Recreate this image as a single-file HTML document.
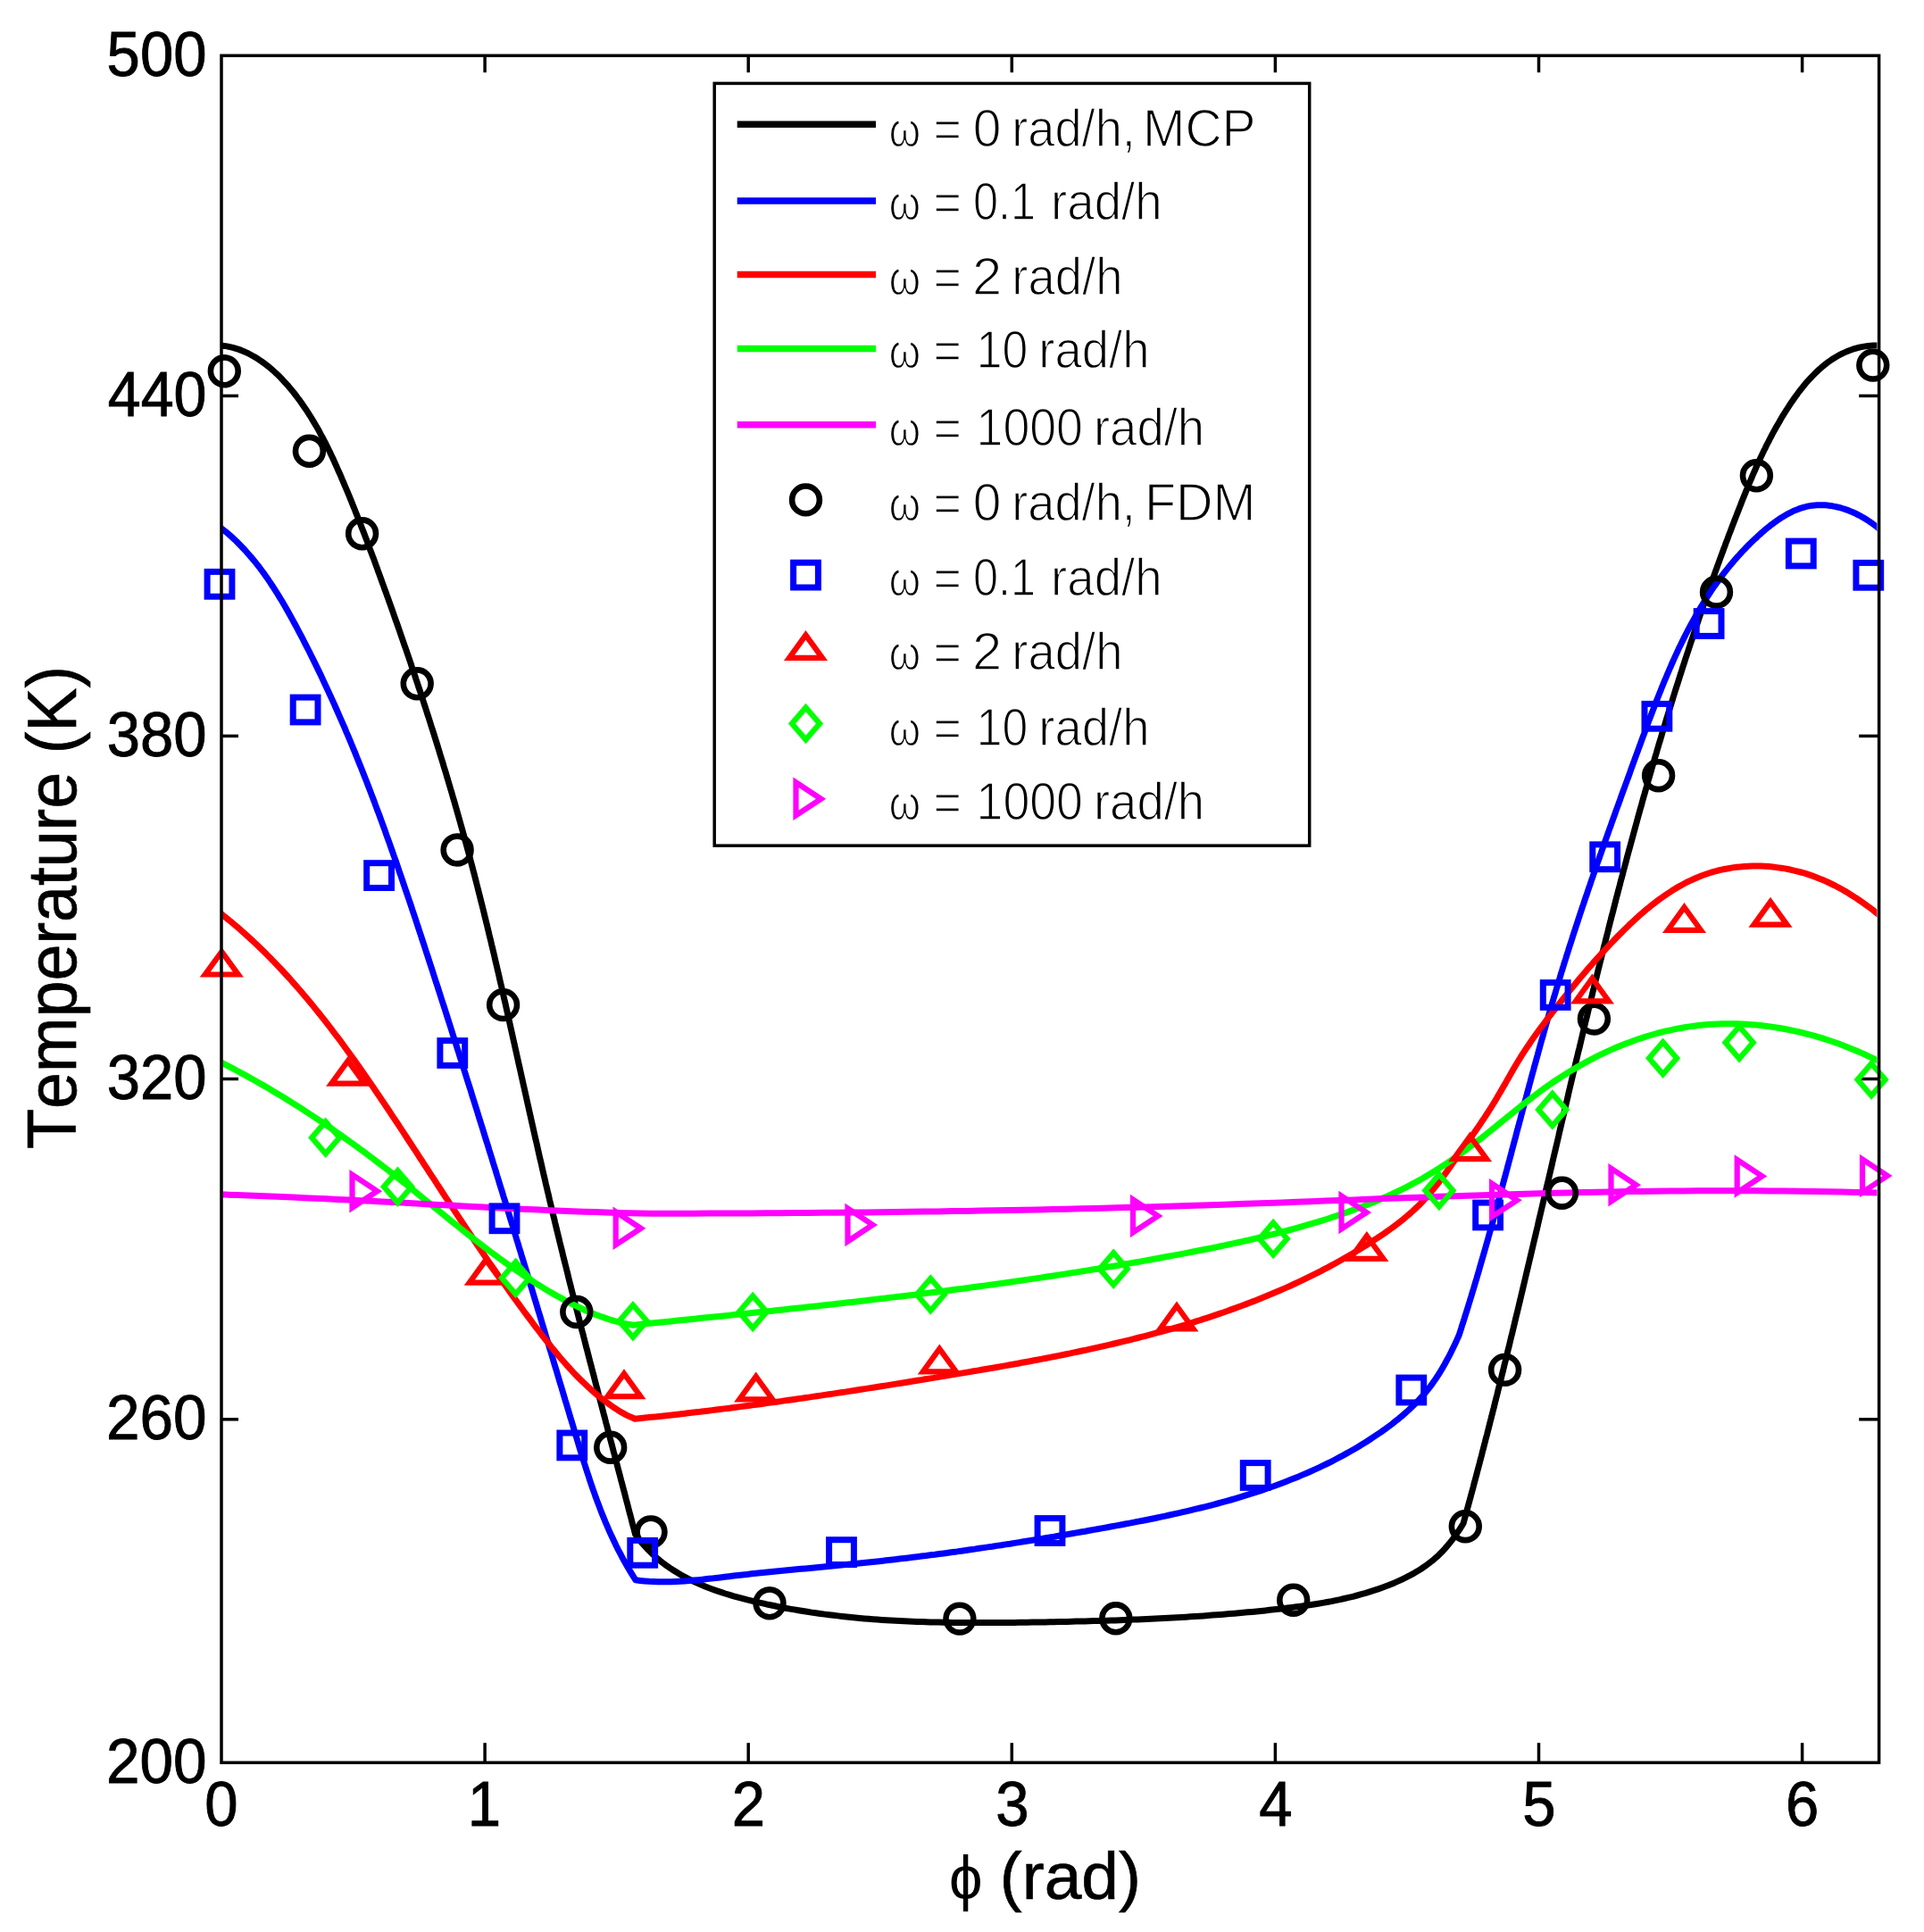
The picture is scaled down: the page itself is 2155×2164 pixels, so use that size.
<!DOCTYPE html>
<html><head><meta charset="utf-8"><title>Temperature vs phi</title>
<style>
html,body{margin:0;padding:0;background:#fff;}
svg{display:block;}
text{font-family:"Liberation Sans",sans-serif;fill:#000;font-kerning:none;}
.tb{stroke:#000;stroke-width:0.9px;}
.ab{stroke:#000;stroke-width:0.7px;}
.lt{stroke:#fff;stroke-width:1.4px;paint-order:fill stroke;}
</style></head><body>
<svg width="2155" height="2164" viewBox="0 0 2155 2164">
<rect x="0" y="0" width="2155" height="2164" fill="#fff"/>
<g stroke="#000" stroke-width="3.5">
<line x1="543.1" y1="1974.3" x2="543.1" y2="1952.2"/><line x1="543.1" y1="62.3" x2="543.1" y2="81.2"/>
<line x1="838.2" y1="1974.3" x2="838.2" y2="1952.2"/><line x1="838.2" y1="62.3" x2="838.2" y2="81.2"/>
<line x1="1133.3" y1="1974.3" x2="1133.3" y2="1952.2"/><line x1="1133.3" y1="62.3" x2="1133.3" y2="81.2"/>
<line x1="1428.4" y1="1974.3" x2="1428.4" y2="1952.2"/><line x1="1428.4" y1="62.3" x2="1428.4" y2="81.2"/>
<line x1="1723.5" y1="1974.3" x2="1723.5" y2="1952.2"/><line x1="1723.5" y1="62.3" x2="1723.5" y2="81.2"/>
<line x1="2018.6" y1="1974.3" x2="2018.6" y2="1952.2"/><line x1="2018.6" y1="62.3" x2="2018.6" y2="81.2"/>
<line x1="248.0" y1="443.4" x2="267" y2="443.4"/><line x1="2104.6" y1="443.4" x2="2082.2" y2="443.4"/>
<line x1="248.0" y1="824.4" x2="267" y2="824.4"/><line x1="2104.6" y1="824.4" x2="2082.2" y2="824.4"/>
<line x1="248.0" y1="1208.5" x2="267" y2="1208.5"/><line x1="2104.6" y1="1208.5" x2="2082.2" y2="1208.5"/>
<line x1="248.0" y1="1589.8" x2="267" y2="1589.8"/><line x1="2104.6" y1="1589.8" x2="2082.2" y2="1589.8"/>
</g>
<defs><clipPath id="pc"><rect x="248.0" y="62.3" width="1854.4" height="1912.0"/></clipPath></defs>
<g fill="none" stroke-width="7.0" stroke-linejoin="round" stroke-linecap="butt" clip-path="url(#pc)">
<path d="M194.7,403.1 L198.2,400.6 L201.8,398.3 L205.4,396.3 L208.9,394.4 L212.5,392.8 L216.0,391.4 L219.6,390.2 L223.1,389.1 L226.6,388.3 L230.1,387.7 L233.6,387.2 L237.1,386.9 L240.6,386.8 L244.0,386.8 L247.5,387.0 L250.9,387.4 L254.3,387.9 L257.6,388.6 L260.9,389.4 L264.2,390.4 L267.5,391.4 L270.7,392.6 L273.9,394.0 L277.1,395.4 L280.2,397.0 L283.3,398.7 L286.3,400.4 L289.3,402.3 L292.3,404.3 L295.2,406.4 L298.0,408.5 L300.9,410.8 L303.7,413.1 L306.4,415.5 L309.1,418.0 L311.8,420.5 L314.4,423.1 L316.9,425.8 L319.5,428.6 L322.0,431.3 L324.4,434.2 L326.8,437.1 L329.2,440.0 L331.5,443.0 L333.7,446.0 L336.0,449.0 L338.2,452.1 L340.3,455.2 L342.4,458.3 L344.5,461.4 L346.5,464.6 L348.5,467.7 L350.4,470.9 L352.3,474.1 L354.2,477.3 L356.1,480.6 L357.9,483.8 L359.6,487.1 L361.4,490.3 L363.1,493.6 L364.8,496.9 L366.4,500.2 L368.1,503.5 L369.7,506.8 L371.3,510.2 L372.9,513.5 L374.4,516.9 L375.9,520.2 L377.4,523.6 L378.9,527.0 L380.4,530.3 L381.9,533.7 L383.3,537.1 L384.8,540.5 L386.2,543.9 L387.7,547.3 L389.1,550.6 L390.5,554.0 L391.9,557.4 L393.3,560.8 L394.6,564.2 L396.0,567.6 L397.4,571.0 L398.7,574.4 L400.1,577.8 L401.4,581.2 L402.8,584.6 L404.1,588.0 L405.4,591.4 L406.8,594.9 L408.1,598.3 L409.4,601.7 L410.7,605.1 L412.0,608.5 L413.3,611.9 L414.5,615.4 L415.8,618.8 L417.1,622.2 L418.4,625.6 L419.7,629.1 L420.9,632.5 L422.2,635.9 L423.4,639.4 L424.7,642.8 L425.9,646.2 L427.2,649.7 L428.4,653.1 L429.7,656.6 L430.9,660.0 L432.2,663.4 L433.4,666.9 L434.7,670.3 L435.9,673.8 L437.1,677.2 L438.4,680.7 L439.6,684.1 L440.8,687.6 L442.0,691.1 L443.2,694.5 L444.5,698.0 L445.7,701.5 L446.9,704.9 L448.1,708.4 L449.3,711.8 L450.5,715.3 L451.7,718.8 L452.9,722.3 L454.1,725.7 L455.3,729.2 L456.5,732.7 L457.7,736.2 L458.9,739.6 L460.1,743.1 L461.2,746.6 L462.4,750.1 L463.6,753.6 L464.8,757.1 L465.9,760.6 L467.1,764.0 L468.2,767.5 L469.4,771.0 L470.6,774.5 L471.7,778.0 L472.9,781.5 L474.0,785.0 L475.1,788.5 L476.3,792.0 L477.4,795.5 L478.5,799.0 L479.7,802.5 L480.8,806.0 L481.9,809.5 L483.0,813.1 L484.2,816.6 L485.3,820.1 L486.4,823.6 L487.5,827.1 L488.6,830.6 L489.7,834.1 L490.8,837.7 L491.9,841.2 L492.9,844.7 L494.0,848.2 L495.1,851.7 L496.2,855.3 L497.2,858.8 L498.3,862.3 L499.4,865.8 L500.4,869.4 L501.5,872.9 L502.5,876.4 L503.6,880.0 L504.6,883.5 L505.7,887.0 L506.7,890.6 L507.7,894.1 L508.8,897.6 L509.8,901.2 L510.8,904.7 L511.8,908.3 L512.8,911.8 L513.8,915.3 L514.8,918.9 L515.8,922.4 L516.8,926.0 L517.8,929.5 L518.8,933.1 L519.8,936.6 L520.7,940.2 L521.7,943.7 L522.7,947.3 L523.6,950.8 L524.6,954.4 L525.5,957.9 L526.5,961.5 L527.4,965.0 L528.4,968.6 L529.3,972.2 L530.2,975.7 L531.2,979.3 L532.1,982.8 L533.0,986.4 L533.9,990.0 L534.8,993.5 L535.7,997.1 L536.6,1000.7 L537.5,1004.2 L538.4,1007.8 L539.3,1011.4 L540.2,1014.9 L541.1,1018.5 L542.0,1022.1 L542.8,1025.6 L543.7,1029.2 L544.6,1032.8 L545.5,1036.3 L546.3,1039.9 L547.2,1043.5 L548.0,1047.1 L548.9,1050.6 L549.8,1054.2 L550.6,1057.8 L551.5,1061.4 L552.3,1064.9 L553.2,1068.5 L554.0,1072.1 L554.8,1075.7 L555.7,1079.3 L556.5,1082.8 L557.3,1086.4 L558.2,1090.0 L559.0,1093.6 L559.8,1097.2 L560.6,1100.7 L561.5,1104.3 L562.3,1107.9 L563.1,1111.5 L563.9,1115.1 L564.7,1118.6 L565.6,1122.2 L566.4,1125.8 L567.2,1129.4 L568.0,1133.0 L568.8,1136.6 L569.6,1140.1 L570.4,1143.7 L571.2,1147.3 L572.0,1150.9 L572.8,1154.5 L573.6,1158.1 L574.4,1161.7 L575.2,1165.2 L576.0,1168.8 L576.8,1172.4 L577.6,1176.0 L578.4,1179.6 L579.2,1183.2 L580.0,1186.8 L580.8,1190.4 L581.6,1193.9 L582.4,1197.5 L583.2,1201.1 L584.0,1204.7 L584.8,1208.3 L585.6,1211.9 L586.4,1215.5 L587.2,1219.1 L588.0,1222.6 L588.8,1226.2 L589.6,1229.8 L590.4,1233.4 L591.2,1237.0 L592.0,1240.6 L592.8,1244.2 L593.6,1247.7 L594.4,1251.3 L595.2,1254.9 L596.0,1258.5 L596.8,1262.1 L597.6,1265.7 L598.4,1269.3 L599.2,1272.8 L600.0,1276.4 L600.9,1280.0 L601.7,1283.6 L602.5,1287.2 L603.3,1290.8 L604.1,1294.4 L604.9,1297.9 L605.8,1301.5 L606.6,1305.1 L607.4,1308.7 L608.2,1312.3 L609.0,1315.8 L609.9,1319.4 L610.7,1323.0 L611.5,1326.6 L612.4,1330.2 L613.2,1333.8 L614.1,1337.3 L614.9,1340.9 L615.7,1344.5 L616.6,1348.1 L617.4,1351.6 L618.3,1355.2 L619.1,1358.8 L620.0,1362.4 L620.9,1365.9 L621.7,1369.5 L622.6,1373.1 L623.4,1376.7 L624.3,1380.2 L625.2,1383.8 L626.1,1387.4 L626.9,1391.0 L627.8,1394.5 L628.7,1398.1 L629.6,1401.7 L630.4,1405.2 L631.3,1408.8 L632.2,1412.4 L633.1,1416.0 L634.0,1419.5 L634.9,1423.1 L635.8,1426.7 L636.6,1430.2 L637.5,1433.8 L638.4,1437.4 L639.3,1440.9 L640.2,1444.5 L641.1,1448.1 L642.0,1451.6 L642.9,1455.2 L643.8,1458.8 L644.7,1462.3 L645.7,1465.9 L646.6,1469.5 L647.5,1473.0 L648.4,1476.6 L649.3,1480.2 L650.2,1483.7 L651.1,1487.3 L652.0,1490.8 L653.0,1494.4 L653.9,1498.0 L654.8,1501.5 L655.7,1505.1 L656.6,1508.7 L657.6,1512.2 L658.5,1515.8 L659.4,1519.3 L660.3,1522.9 L661.2,1526.5 L662.2,1530.0 L663.1,1533.6 L664.0,1537.1 L665.0,1540.7 L665.9,1544.3 L666.8,1547.8 L667.7,1551.4 L668.7,1554.9 L669.6,1558.5 L670.5,1562.1 L671.5,1565.6 L672.4,1569.2 L673.3,1572.7 L674.3,1576.3 L675.2,1579.8 L676.1,1583.4 L677.1,1587.0 L678.0,1590.5 L678.9,1594.1 L679.9,1597.6 L680.8,1601.2 L681.7,1604.7 L682.7,1608.3 L683.6,1611.9 L684.5,1615.4 L685.5,1619.0 L686.4,1622.5 L687.3,1626.1 L688.3,1629.6 L689.2,1633.2 L690.1,1636.7 L691.1,1640.3 L692.0,1643.9 L692.9,1647.4 L693.9,1651.0 L694.8,1654.5 L695.7,1658.1 L696.7,1661.6 L697.6,1665.2 L698.5,1668.7 L699.5,1672.3 L700.4,1675.8 L701.3,1679.4 L702.3,1683.0 L703.2,1686.5 L704.1,1690.1 L705.0,1693.6 L706.0,1697.2 L706.9,1700.7 L707.8,1704.3 L708.7,1707.8 L709.7,1711.4 L710.6,1714.9 L711.5,1718.5 L714.6,1722.7 L717.7,1726.7 L721.0,1730.5 L724.4,1734.2 L727.9,1737.8 L731.4,1741.2 L735.1,1744.5 L738.8,1747.7 L742.6,1750.7 L746.5,1753.6 L750.5,1756.4 L754.5,1759.0 L758.7,1761.6 L762.8,1764.1 L767.1,1766.4 L771.4,1768.6 L775.8,1770.8 L780.2,1772.9 L784.7,1774.8 L789.2,1776.7 L793.7,1778.5 L798.3,1780.2 L803.0,1781.9 L807.6,1783.4 L812.4,1785.0 L817.1,1786.4 L821.8,1787.8 L826.6,1789.1 L831.4,1790.4 L836.2,1791.7 L841.1,1792.9 L845.9,1794.0 L850.7,1795.1 L855.6,1796.2 L860.4,1797.3 L865.3,1798.3 L870.1,1799.3 L875.0,1800.2 L879.8,1801.2 L884.7,1802.1 L889.6,1802.9 L894.5,1803.7 L899.3,1804.5 L904.2,1805.3 L909.1,1806.1 L914.0,1806.8 L918.9,1807.5 L923.8,1808.1 L928.7,1808.7 L933.6,1809.3 L938.5,1809.9 L943.4,1810.5 L948.3,1811.0 L953.2,1811.5 L958.2,1812.0 L963.1,1812.4 L968.0,1812.9 L972.9,1813.3 L977.9,1813.7 L982.8,1814.0 L987.7,1814.4 L992.7,1814.7 L997.6,1815.0 L1002.5,1815.3 L1007.5,1815.5 L1012.4,1815.8 L1017.4,1816.0 L1022.3,1816.2 L1027.2,1816.4 L1032.2,1816.6 L1037.1,1816.8 L1042.1,1816.9 L1047.0,1817.0 L1052.0,1817.1 L1056.9,1817.2 L1061.9,1817.3 L1066.8,1817.4 L1071.8,1817.5 L1076.7,1817.5 L1081.7,1817.6 L1086.7,1817.6 L1091.6,1817.6 L1096.6,1817.6 L1101.5,1817.6 L1106.5,1817.6 L1111.4,1817.6 L1116.4,1817.5 L1121.3,1817.5 L1126.3,1817.5 L1131.2,1817.4 L1136.2,1817.4 L1141.1,1817.3 L1146.0,1817.2 L1151.0,1817.2 L1155.9,1817.1 L1160.9,1817.0 L1165.8,1816.9 L1170.7,1816.9 L1175.7,1816.8 L1180.6,1816.7 L1185.6,1816.6 L1190.5,1816.5 L1195.4,1816.4 L1200.3,1816.3 L1205.3,1816.1 L1210.2,1816.0 L1215.1,1815.9 L1220.1,1815.8 L1225.0,1815.6 L1229.9,1815.5 L1234.8,1815.4 L1239.8,1815.2 L1244.7,1815.0 L1249.6,1814.9 L1254.5,1814.7 L1259.5,1814.5 L1264.4,1814.3 L1269.3,1814.1 L1274.2,1813.9 L1279.1,1813.7 L1284.1,1813.5 L1289.0,1813.3 L1293.9,1813.1 L1298.8,1812.8 L1303.8,1812.6 L1308.7,1812.3 L1313.6,1812.0 L1318.5,1811.7 L1323.4,1811.5 L1328.4,1811.2 L1333.3,1810.8 L1338.2,1810.5 L1343.2,1810.2 L1348.1,1809.9 L1353.0,1809.5 L1357.9,1809.1 L1362.9,1808.8 L1367.8,1808.4 L1372.7,1808.0 L1377.7,1807.6 L1382.6,1807.2 L1387.5,1806.7 L1392.5,1806.3 L1397.4,1805.8 L1402.4,1805.4 L1407.3,1804.9 L1412.3,1804.4 L1417.2,1803.9 L1422.1,1803.3 L1427.1,1802.8 L1432.1,1802.3 L1437.0,1801.7 L1442.0,1801.1 L1446.9,1800.5 L1451.9,1799.8 L1456.8,1799.2 L1461.7,1798.5 L1466.7,1797.8 L1471.6,1797.0 L1476.5,1796.2 L1481.4,1795.4 L1486.3,1794.5 L1491.2,1793.6 L1496.0,1792.6 L1500.9,1791.6 L1505.7,1790.5 L1510.5,1789.4 L1515.3,1788.3 L1520.1,1787.0 L1524.8,1785.7 L1529.6,1784.4 L1534.3,1782.9 L1538.9,1781.4 L1543.6,1779.9 L1548.2,1778.2 L1552.8,1776.5 L1557.4,1774.7 L1561.9,1772.9 L1566.4,1770.9 L1570.8,1768.8 L1575.2,1766.7 L1579.6,1764.4 L1583.9,1762.1 L1588.1,1759.6 L1592.2,1757.0 L1596.3,1754.2 L1600.2,1751.3 L1604.1,1748.3 L1607.8,1745.1 L1611.5,1741.8 L1615.0,1738.3 L1618.4,1734.6 L1621.7,1730.8 L1624.9,1726.9 L1628.0,1722.9 L1630.9,1718.9 L1633.7,1714.8 L1636.4,1710.6 L1639.0,1706.5 L1639.8,1703.6 L1640.6,1700.6 L1641.4,1697.7 L1642.2,1694.8 L1643.0,1691.8 L1643.8,1688.9 L1644.6,1686.0 L1645.4,1683.0 L1646.2,1680.1 L1647.0,1677.2 L1647.8,1674.2 L1648.6,1671.3 L1649.4,1668.3 L1650.2,1665.4 L1650.9,1662.5 L1651.7,1659.5 L1652.5,1656.6 L1653.3,1653.6 L1654.1,1650.7 L1654.8,1647.8 L1655.6,1644.8 L1656.4,1641.9 L1657.2,1638.9 L1657.9,1636.0 L1658.7,1633.1 L1659.5,1630.1 L1660.2,1627.2 L1661.0,1624.2 L1661.8,1621.3 L1662.5,1618.3 L1663.3,1615.4 L1664.0,1612.4 L1664.8,1609.5 L1665.6,1606.6 L1666.3,1603.6 L1667.1,1600.7 L1667.8,1597.7 L1668.6,1594.8 L1669.3,1591.8 L1670.1,1588.9 L1670.8,1585.9 L1671.6,1583.0 L1672.3,1580.0 L1673.1,1577.1 L1673.8,1574.1 L1674.5,1571.2 L1675.3,1568.2 L1676.0,1565.3 L1676.8,1562.3 L1677.5,1559.4 L1678.2,1556.4 L1679.0,1553.5 L1679.7,1550.5 L1680.4,1547.6 L1681.2,1544.6 L1681.9,1541.7 L1682.6,1538.7 L1683.4,1535.8 L1684.1,1532.8 L1684.8,1529.8 L1685.5,1526.9 L1686.3,1523.9 L1687.0,1521.0 L1687.7,1518.0 L1688.4,1515.1 L1689.1,1512.1 L1689.9,1509.2 L1690.6,1506.2 L1691.3,1503.3 L1692.0,1500.3 L1692.7,1497.3 L1693.5,1494.4 L1694.2,1491.4 L1694.9,1488.5 L1695.6,1485.5 L1696.3,1482.6 L1697.0,1479.6 L1697.7,1476.6 L1698.4,1473.7 L1699.2,1470.7 L1699.9,1467.8 L1700.6,1464.8 L1701.3,1461.8 L1702.0,1458.9 L1702.7,1455.9 L1703.4,1453.0 L1704.1,1450.0 L1704.8,1447.1 L1705.5,1444.1 L1706.2,1441.1 L1706.9,1438.2 L1707.6,1435.2 L1708.3,1432.3 L1709.0,1429.3 L1709.7,1426.3 L1710.4,1423.4 L1711.1,1420.4 L1711.8,1417.4 L1712.5,1414.5 L1713.2,1411.5 L1713.9,1408.6 L1714.6,1405.6 L1715.3,1402.6 L1716.0,1399.7 L1716.7,1396.7 L1717.4,1393.8 L1718.1,1390.8 L1718.8,1387.8 L1719.5,1384.9 L1720.2,1381.9 L1720.9,1378.9 L1721.6,1376.0 L1722.3,1373.0 L1722.9,1370.1 L1723.6,1367.1 L1724.3,1364.1 L1725.0,1361.2 L1725.7,1358.2 L1726.4,1355.2 L1727.1,1352.3 L1727.8,1349.3 L1728.5,1346.4 L1729.2,1343.4 L1729.9,1340.4 L1730.6,1337.5 L1731.2,1334.5 L1731.9,1331.5 L1732.6,1328.6 L1733.3,1325.6 L1734.0,1322.7 L1734.7,1319.7 L1735.4,1316.7 L1736.1,1313.8 L1736.8,1310.8 L1737.5,1307.8 L1738.2,1304.9 L1738.8,1301.9 L1739.5,1299.0 L1740.2,1296.0 L1740.9,1293.0 L1741.6,1290.1 L1742.3,1287.1 L1743.0,1284.1 L1743.7,1281.2 L1744.4,1278.2 L1745.1,1275.3 L1745.8,1272.3 L1746.4,1269.3 L1747.1,1266.4 L1747.8,1263.4 L1748.5,1260.4 L1749.2,1257.5 L1749.9,1254.5 L1750.6,1251.6 L1751.3,1248.6 L1752.0,1245.6 L1752.7,1242.7 L1753.4,1239.7 L1754.1,1236.7 L1754.8,1233.8 L1755.5,1230.8 L1756.2,1227.9 L1756.8,1224.9 L1757.5,1221.9 L1758.2,1219.0 L1758.9,1216.0 L1759.6,1213.1 L1760.3,1210.1 L1761.0,1207.1 L1761.7,1204.2 L1762.4,1201.2 L1763.1,1198.3 L1763.8,1195.3 L1764.5,1192.3 L1765.2,1189.4 L1765.9,1186.4 L1766.6,1183.5 L1767.3,1180.5 L1768.0,1177.5 L1768.8,1174.6 L1769.5,1171.6 L1770.2,1168.7 L1770.9,1165.7 L1771.6,1162.8 L1772.3,1159.8 L1773.0,1156.8 L1773.7,1153.9 L1774.4,1150.9 L1775.1,1148.0 L1775.8,1145.0 L1776.5,1142.1 L1777.3,1139.1 L1778.0,1136.1 L1778.7,1133.2 L1779.4,1130.2 L1780.1,1127.3 L1780.8,1124.3 L1781.6,1121.4 L1782.3,1118.4 L1783.0,1115.5 L1783.7,1112.5 L1784.4,1109.5 L1785.2,1106.6 L1785.9,1103.6 L1786.6,1100.7 L1787.3,1097.7 L1788.1,1094.8 L1788.8,1091.8 L1789.5,1088.9 L1790.2,1085.9 L1791.0,1083.0 L1791.7,1080.0 L1792.4,1077.1 L1793.2,1074.1 L1793.9,1071.2 L1794.6,1068.2 L1795.4,1065.3 L1796.1,1062.3 L1796.8,1059.4 L1797.6,1056.4 L1798.3,1053.5 L1799.1,1050.5 L1799.8,1047.6 L1800.6,1044.6 L1801.3,1041.7 L1802.0,1038.7 L1802.8,1035.8 L1803.5,1032.8 L1804.3,1029.9 L1805.0,1026.9 L1805.8,1024.0 L1806.6,1021.1 L1807.3,1018.1 L1808.1,1015.2 L1808.8,1012.2 L1809.6,1009.3 L1810.3,1006.3 L1811.1,1003.4 L1811.9,1000.5 L1812.6,997.5 L1813.4,994.6 L1814.2,991.6 L1814.9,988.7 L1815.7,985.7 L1816.5,982.8 L1817.3,979.9 L1818.0,976.9 L1818.8,974.0 L1819.6,971.1 L1820.4,968.1 L1821.2,965.2 L1821.9,962.2 L1822.7,959.3 L1823.5,956.4 L1824.3,953.4 L1825.1,950.5 L1825.9,947.6 L1826.7,944.6 L1827.5,941.7 L1828.3,938.8 L1829.1,935.8 L1829.9,932.9 L1830.7,930.0 L1831.5,927.0 L1832.3,924.1 L1833.1,921.2 L1833.9,918.2 L1834.7,915.3 L1835.5,912.4 L1836.3,909.5 L1837.1,906.5 L1838.0,903.6 L1838.8,900.7 L1839.6,897.7 L1840.4,894.8 L1841.2,891.9 L1842.1,889.0 L1842.9,886.0 L1843.7,883.1 L1844.6,880.2 L1845.4,877.3 L1846.2,874.3 L1847.1,871.4 L1847.9,868.5 L1848.7,865.6 L1849.6,862.7 L1850.4,859.7 L1851.3,856.8 L1852.1,853.9 L1853.0,851.0 L1853.8,848.1 L1854.7,845.2 L1855.6,842.2 L1856.4,839.3 L1857.3,836.4 L1858.1,833.5 L1859.0,830.6 L1859.9,827.7 L1860.8,824.8 L1861.6,821.8 L1862.5,818.9 L1863.4,816.0 L1864.3,813.1 L1865.1,810.2 L1866.0,807.3 L1866.9,804.4 L1867.8,801.5 L1868.7,798.6 L1869.6,795.7 L1870.5,792.8 L1871.4,789.9 L1872.3,787.0 L1873.2,784.1 L1874.1,781.1 L1875.0,778.2 L1875.9,775.3 L1876.8,772.4 L1877.7,769.6 L1878.7,766.7 L1879.6,763.8 L1880.5,760.9 L1881.4,758.0 L1882.3,755.1 L1883.3,752.2 L1884.2,749.3 L1885.1,746.4 L1886.1,743.5 L1887.0,740.6 L1887.9,737.7 L1888.9,734.8 L1889.8,732.0 L1890.8,729.1 L1891.7,726.2 L1892.7,723.3 L1893.6,720.4 L1894.6,717.5 L1895.6,714.7 L1896.5,711.8 L1897.5,708.9 L1898.5,706.0 L1899.4,703.1 L1900.4,700.3 L1901.4,697.4 L1902.4,694.5 L1903.3,691.6 L1904.3,688.8 L1905.3,685.9 L1906.3,683.0 L1907.3,680.2 L1908.3,677.3 L1909.3,674.4 L1910.3,671.6 L1911.3,668.7 L1912.3,665.8 L1913.3,663.0 L1914.3,660.1 L1915.3,657.3 L1916.3,654.4 L1917.3,651.5 L1918.4,648.7 L1919.4,645.8 L1920.4,643.0 L1921.4,640.1 L1922.5,637.3 L1923.5,634.4 L1924.5,631.6 L1925.6,628.7 L1926.6,625.9 L1927.7,623.0 L1928.7,620.2 L1929.8,617.4 L1930.8,614.5 L1931.9,611.7 L1932.9,608.8 L1934.0,606.0 L1935.1,603.2 L1936.1,600.3 L1937.2,597.5 L1938.3,594.7 L1939.4,591.8 L1940.4,589.0 L1941.5,586.2 L1942.6,583.4 L1943.7,580.5 L1944.8,577.7 L1945.9,574.9 L1947.0,572.1 L1948.1,569.3 L1949.2,566.4 L1950.3,563.6 L1951.4,560.8 L1952.5,558.0 L1953.7,555.2 L1954.8,552.4 L1955.9,549.6 L1957.1,546.8 L1958.2,544.0 L1959.4,541.2 L1960.6,538.4 L1961.8,535.6 L1962.9,532.8 L1964.1,530.1 L1965.4,527.3 L1966.6,524.5 L1967.8,521.7 L1969.1,519.0 L1970.3,516.2 L1971.6,513.4 L1972.9,510.7 L1974.2,507.9 L1975.5,505.2 L1976.9,502.5 L1978.2,499.7 L1979.6,497.0 L1981.0,494.3 L1982.4,491.5 L1983.8,488.8 L1985.2,486.1 L1986.7,483.4 L1988.2,480.7 L1989.7,478.0 L1991.2,475.4 L1992.8,472.7 L1994.3,470.0 L1995.9,467.3 L1997.5,464.7 L1999.2,462.0 L2000.8,459.4 L2002.5,456.8 L2004.2,454.1 L2005.9,451.5 L2007.7,448.9 L2009.5,446.4 L2011.3,443.8 L2013.2,441.3 L2015.0,438.8 L2016.9,436.3 L2018.9,433.9 L2020.8,431.5 L2022.8,429.1 L2024.8,426.8 L2026.9,424.5 L2029.0,422.3 L2031.1,420.1 L2033.2,418.0 L2035.4,415.9 L2037.6,413.8 L2039.9,411.8 L2042.1,409.9 L2044.5,408.0 L2046.8,406.2 L2049.2,404.5 L2051.6,402.8 L2054.1,401.2 L2056.6,399.7 L2059.1,398.3 L2061.7,396.9 L2064.3,395.6 L2067.0,394.4 L2069.7,393.2 L2072.4,392.2 L2075.2,391.2 L2078.0,390.4 L2080.8,389.6 L2083.6,388.9 L2086.5,388.4 L2089.4,387.9 L2092.3,387.5 L2095.2,387.3 L2098.1,387.1 L2101.1,387.1 L2104.0,387.1 L2107.0,387.3 L2109.9,387.6 L2112.8,388.0 L2115.8,388.5 L2118.7,389.2 L2121.6,389.9 L2124.5,390.8 L2127.3,391.9 L2130.2,393.0 L2133.0,394.3 L2135.8,395.8 L2138.5,397.3 L2141.3,399.0 L2144.0,400.9 L2146.6,402.9" stroke="#000"/>
<path d="M187.3,565.1 L192.4,565.9 L197.4,566.9 L202.3,568.2 L207.1,569.6 L211.8,571.3 L216.4,573.1 L220.9,575.1 L225.3,577.2 L229.6,579.5 L233.8,582.0 L237.9,584.6 L242.0,587.3 L245.9,590.2 L249.8,593.2 L253.6,596.2 L257.3,599.4 L260.9,602.7 L264.5,606.0 L267.9,609.5 L271.3,613.0 L274.7,616.5 L277.9,620.2 L281.1,623.9 L284.3,627.6 L287.3,631.4 L290.4,635.3 L293.3,639.3 L296.2,643.2 L299.1,647.3 L301.9,651.4 L304.6,655.5 L307.3,659.6 L310.0,663.8 L312.6,668.1 L315.2,672.3 L317.7,676.6 L320.3,681.0 L322.7,685.3 L325.2,689.7 L327.6,694.1 L330.0,698.5 L332.4,702.9 L334.7,707.3 L337.0,711.7 L339.4,716.2 L341.6,720.6 L343.9,725.1 L346.2,729.5 L348.4,734.0 L350.6,738.4 L352.8,742.9 L355.0,747.4 L357.2,751.9 L359.4,756.4 L361.5,760.9 L363.6,765.4 L365.7,769.9 L367.8,774.4 L369.9,778.9 L371.9,783.4 L374.0,787.9 L376.0,792.5 L378.0,797.0 L380.0,801.6 L382.0,806.1 L384.0,810.7 L386.0,815.2 L387.9,819.8 L389.9,824.3 L391.8,828.9 L393.7,833.5 L395.6,838.1 L397.5,842.6 L399.3,847.2 L401.2,851.8 L403.0,856.4 L404.9,861.0 L406.7,865.6 L408.5,870.2 L410.3,874.8 L412.1,879.4 L413.9,884.1 L415.7,888.7 L417.4,893.3 L419.2,897.9 L420.9,902.6 L422.6,907.2 L424.4,911.8 L426.1,916.5 L427.8,921.1 L429.5,925.8 L431.2,930.4 L432.8,935.1 L434.5,939.7 L436.2,944.4 L437.8,949.0 L439.5,953.7 L441.1,958.4 L442.8,963.0 L444.4,967.7 L446.0,972.4 L447.6,977.1 L449.2,981.7 L450.8,986.4 L452.4,991.1 L454.0,995.8 L455.6,1000.5 L457.2,1005.2 L458.8,1009.8 L460.4,1014.5 L461.9,1019.2 L463.5,1023.9 L465.1,1028.6 L466.6,1033.3 L468.2,1038.0 L469.7,1042.7 L471.3,1047.4 L472.8,1052.1 L474.4,1056.8 L475.9,1061.5 L477.4,1066.2 L479.0,1070.9 L480.5,1075.6 L482.0,1080.3 L483.6,1085.0 L485.1,1089.8 L486.6,1094.5 L488.1,1099.2 L489.7,1103.9 L491.2,1108.6 L492.7,1113.3 L494.2,1118.0 L495.7,1122.7 L497.3,1127.4 L498.8,1132.2 L500.3,1136.9 L501.8,1141.6 L503.3,1146.3 L504.8,1151.0 L506.3,1155.7 L507.8,1160.5 L509.3,1165.2 L510.8,1169.9 L512.3,1174.6 L513.8,1179.3 L515.3,1184.1 L516.8,1188.8 L518.3,1193.5 L519.8,1198.2 L521.3,1202.9 L522.8,1207.7 L524.3,1212.4 L525.8,1217.1 L527.3,1221.8 L528.7,1226.6 L530.2,1231.3 L531.7,1236.0 L533.2,1240.8 L534.7,1245.5 L536.1,1250.2 L537.6,1254.9 L539.1,1259.7 L540.6,1264.4 L542.0,1269.1 L543.5,1273.9 L545.0,1278.6 L546.5,1283.3 L547.9,1288.1 L549.4,1292.8 L550.9,1297.5 L552.3,1302.3 L553.8,1307.0 L555.3,1311.7 L556.7,1316.5 L558.2,1321.2 L559.6,1325.9 L561.1,1330.7 L562.6,1335.4 L564.0,1340.2 L565.5,1344.9 L566.9,1349.6 L568.4,1354.4 L569.8,1359.1 L571.3,1363.9 L572.7,1368.6 L574.2,1373.3 L575.6,1378.1 L577.1,1382.8 L578.5,1387.6 L580.0,1392.3 L581.4,1397.1 L582.9,1401.8 L584.3,1406.6 L585.8,1411.3 L587.2,1416.0 L588.7,1420.8 L590.1,1425.5 L591.5,1430.3 L593.0,1435.0 L594.4,1439.8 L595.9,1444.5 L597.3,1449.3 L598.7,1454.0 L600.2,1458.8 L601.6,1463.5 L603.0,1468.3 L604.5,1473.0 L605.9,1477.8 L607.3,1482.5 L608.8,1487.3 L610.2,1492.0 L611.6,1496.8 L613.1,1501.5 L614.5,1506.3 L615.9,1511.0 L617.4,1515.8 L618.8,1520.5 L620.2,1525.3 L621.6,1530.0 L623.1,1534.8 L624.5,1539.5 L625.9,1544.3 L627.3,1549.0 L628.8,1553.8 L630.2,1558.5 L631.6,1563.3 L633.0,1568.1 L634.5,1572.8 L635.9,1577.6 L637.3,1582.3 L638.7,1587.1 L640.2,1591.8 L641.6,1596.6 L643.0,1601.3 L644.4,1606.1 L645.9,1610.8 L647.3,1615.6 L648.7,1620.3 L650.2,1625.1 L651.6,1629.8 L653.1,1634.6 L654.6,1639.3 L656.1,1644.0 L657.6,1648.7 L659.2,1653.4 L660.7,1658.1 L662.3,1662.8 L663.9,1667.5 L665.6,1672.1 L667.2,1676.8 L668.9,1681.4 L670.7,1686.0 L672.4,1690.6 L674.2,1695.2 L676.1,1699.8 L677.9,1704.3 L679.9,1708.8 L681.8,1713.3 L683.8,1717.8 L685.9,1722.3 L688.0,1726.7 L690.1,1731.2 L692.3,1735.6 L694.6,1739.9 L696.9,1744.3 L699.2,1748.6 L701.7,1752.9 L704.2,1757.2 L706.7,1761.4 L709.3,1765.6 L712.0,1769.8 L717.0,1770.4 L722.0,1770.9 L726.9,1771.3 L731.9,1771.5 L736.9,1771.7 L741.9,1771.8 L746.9,1771.8 L751.8,1771.7 L756.8,1771.5 L761.8,1771.2 L766.8,1770.9 L771.7,1770.6 L776.7,1770.1 L781.7,1769.7 L786.7,1769.2 L791.7,1768.6 L796.7,1768.1 L801.6,1767.5 L806.6,1766.9 L811.6,1766.3 L816.6,1765.7 L821.6,1765.1 L826.6,1764.5 L831.6,1763.9 L836.7,1763.4 L841.7,1762.8 L846.7,1762.3 L851.7,1761.8 L856.7,1761.3 L861.8,1760.7 L866.8,1760.2 L871.8,1759.7 L876.9,1759.3 L881.9,1758.8 L886.9,1758.3 L892.0,1757.8 L897.0,1757.3 L902.0,1756.9 L907.1,1756.4 L912.1,1755.9 L917.1,1755.5 L922.2,1755.0 L927.2,1754.5 L932.2,1754.0 L937.3,1753.5 L942.3,1753.1 L947.3,1752.6 L952.3,1752.1 L957.3,1751.6 L962.4,1751.1 L967.4,1750.5 L972.4,1750.0 L977.4,1749.5 L982.4,1748.9 L987.4,1748.4 L992.4,1747.8 L997.3,1747.3 L1002.3,1746.7 L1007.3,1746.1 L1012.3,1745.5 L1017.3,1744.9 L1022.2,1744.3 L1027.2,1743.7 L1032.2,1743.1 L1037.2,1742.5 L1042.1,1741.8 L1047.1,1741.2 L1052.0,1740.5 L1057.0,1739.9 L1062.0,1739.2 L1066.9,1738.5 L1071.9,1737.9 L1076.8,1737.2 L1081.8,1736.5 L1086.7,1735.8 L1091.7,1735.1 L1096.6,1734.3 L1101.6,1733.6 L1106.5,1732.9 L1111.5,1732.2 L1116.4,1731.4 L1121.4,1730.7 L1126.3,1729.9 L1131.3,1729.2 L1136.2,1728.4 L1141.2,1727.6 L1146.1,1726.8 L1151.1,1726.0 L1156.0,1725.2 L1161.0,1724.4 L1165.9,1723.6 L1170.9,1722.8 L1175.8,1722.0 L1180.8,1721.2 L1185.7,1720.3 L1190.7,1719.5 L1195.6,1718.6 L1200.6,1717.8 L1205.6,1716.9 L1210.5,1716.0 L1215.5,1715.2 L1220.4,1714.3 L1225.4,1713.4 L1230.4,1712.5 L1235.3,1711.6 L1240.3,1710.7 L1245.3,1709.8 L1250.3,1708.9 L1255.2,1708.0 L1260.2,1707.0 L1265.2,1706.1 L1270.2,1705.1 L1275.1,1704.1 L1280.1,1703.2 L1285.1,1702.2 L1290.1,1701.2 L1295.0,1700.2 L1300.0,1699.1 L1305.0,1698.1 L1309.9,1697.0 L1314.9,1695.9 L1319.8,1694.8 L1324.8,1693.7 L1329.7,1692.6 L1334.6,1691.4 L1339.5,1690.2 L1344.5,1689.0 L1349.4,1687.8 L1354.3,1686.6 L1359.2,1685.3 L1364.0,1684.0 L1368.9,1682.7 L1373.8,1681.3 L1378.6,1680.0 L1383.5,1678.6 L1388.3,1677.2 L1393.1,1675.7 L1397.9,1674.2 L1402.7,1672.7 L1407.5,1671.2 L1412.3,1669.6 L1417.0,1668.0 L1421.7,1666.3 L1426.5,1664.7 L1431.2,1663.0 L1435.9,1661.2 L1440.5,1659.4 L1445.2,1657.6 L1449.8,1655.8 L1454.5,1653.9 L1459.1,1651.9 L1463.7,1650.0 L1468.2,1648.0 L1472.8,1645.9 L1477.3,1643.8 L1481.8,1641.7 L1486.3,1639.5 L1490.8,1637.3 L1495.2,1635.0 L1499.6,1632.7 L1504.0,1630.4 L1508.4,1627.9 L1512.7,1625.5 L1517.1,1623.0 L1521.4,1620.4 L1525.7,1617.8 L1529.9,1615.2 L1534.1,1612.5 L1538.3,1609.7 L1542.5,1606.9 L1546.7,1604.1 L1550.8,1601.2 L1554.8,1598.2 L1558.9,1595.2 L1562.8,1592.1 L1566.8,1588.9 L1570.6,1585.7 L1574.4,1582.4 L1578.2,1579.0 L1581.8,1575.5 L1585.4,1572.0 L1588.9,1568.4 L1592.3,1564.7 L1595.6,1560.9 L1598.8,1557.1 L1601.9,1553.1 L1604.8,1549.1 L1607.7,1544.9 L1610.5,1540.7 L1613.2,1536.5 L1615.8,1532.1 L1618.3,1527.7 L1620.7,1523.3 L1623.1,1518.8 L1625.4,1514.3 L1627.6,1509.7 L1629.8,1505.2 L1631.9,1500.6 L1634.0,1496.0 L1634.9,1493.3 L1635.8,1490.5 L1636.7,1487.8 L1637.5,1485.0 L1638.4,1482.3 L1639.3,1479.6 L1640.2,1476.8 L1641.0,1474.1 L1641.9,1471.3 L1642.8,1468.6 L1643.6,1465.8 L1644.5,1463.1 L1645.3,1460.3 L1646.2,1457.5 L1647.0,1454.8 L1647.9,1452.0 L1648.7,1449.3 L1649.5,1446.5 L1650.4,1443.7 L1651.2,1441.0 L1652.0,1438.2 L1652.8,1435.5 L1653.7,1432.7 L1654.5,1429.9 L1655.3,1427.1 L1656.1,1424.4 L1656.9,1421.6 L1657.7,1418.8 L1658.5,1416.1 L1659.3,1413.3 L1660.1,1410.5 L1660.9,1407.7 L1661.7,1405.0 L1662.5,1402.2 L1663.3,1399.4 L1664.1,1396.6 L1664.9,1393.8 L1665.7,1391.1 L1666.5,1388.3 L1667.2,1385.5 L1668.0,1382.7 L1668.8,1379.9 L1669.6,1377.1 L1670.4,1374.3 L1671.1,1371.6 L1671.9,1368.8 L1672.7,1366.0 L1673.4,1363.2 L1674.2,1360.4 L1675.0,1357.6 L1675.7,1354.8 L1676.5,1352.0 L1677.2,1349.2 L1678.0,1346.4 L1678.8,1343.6 L1679.5,1340.8 L1680.3,1338.1 L1681.0,1335.3 L1681.8,1332.5 L1682.5,1329.7 L1683.3,1326.9 L1684.0,1324.1 L1684.8,1321.3 L1685.5,1318.5 L1686.3,1315.7 L1687.0,1312.9 L1687.8,1310.1 L1688.5,1307.3 L1689.3,1304.5 L1690.0,1301.7 L1690.8,1298.9 L1691.5,1296.1 L1692.3,1293.3 L1693.0,1290.5 L1693.7,1287.7 L1694.5,1284.9 L1695.2,1282.1 L1696.0,1279.3 L1696.7,1276.5 L1697.5,1273.7 L1698.2,1270.9 L1698.9,1268.1 L1699.7,1265.3 L1700.4,1262.5 L1701.2,1259.7 L1701.9,1256.9 L1702.7,1254.1 L1703.4,1251.3 L1704.1,1248.5 L1704.9,1245.7 L1705.6,1242.9 L1706.4,1240.1 L1707.1,1237.3 L1707.9,1234.5 L1708.6,1231.7 L1709.4,1228.9 L1710.1,1226.1 L1710.9,1223.3 L1711.6,1220.5 L1712.4,1217.7 L1713.1,1214.9 L1713.9,1212.1 L1714.6,1209.3 L1715.4,1206.5 L1716.1,1203.7 L1716.9,1200.9 L1717.7,1198.1 L1718.4,1195.3 L1719.2,1192.5 L1720.0,1189.8 L1720.7,1187.0 L1721.5,1184.2 L1722.3,1181.4 L1723.0,1178.6 L1723.8,1175.8 L1724.6,1173.0 L1725.3,1170.2 L1726.1,1167.4 L1726.9,1164.6 L1727.7,1161.9 L1728.5,1159.1 L1729.2,1156.3 L1730.0,1153.5 L1730.8,1150.7 L1731.6,1147.9 L1732.4,1145.2 L1733.2,1142.4 L1734.0,1139.6 L1734.8,1136.8 L1735.6,1134.0 L1736.4,1131.3 L1737.2,1128.5 L1738.0,1125.7 L1738.8,1123.0 L1739.6,1120.2 L1740.4,1117.4 L1741.3,1114.6 L1742.1,1111.9 L1742.9,1109.1 L1743.7,1106.3 L1744.6,1103.6 L1745.4,1100.8 L1746.2,1098.0 L1747.1,1095.3 L1747.9,1092.5 L1748.7,1089.8 L1749.6,1087.0 L1750.4,1084.2 L1751.3,1081.5 L1752.1,1078.7 L1753.0,1076.0 L1753.9,1073.2 L1754.7,1070.5 L1755.6,1067.7 L1756.5,1065.0 L1757.3,1062.2 L1758.2,1059.5 L1759.1,1056.7 L1760.0,1054.0 L1760.9,1051.2 L1761.7,1048.5 L1762.6,1045.8 L1763.5,1043.0 L1764.4,1040.3 L1765.3,1037.5 L1766.2,1034.8 L1767.1,1032.1 L1768.0,1029.3 L1768.9,1026.6 L1769.8,1023.8 L1770.7,1021.1 L1771.6,1018.4 L1772.5,1015.6 L1773.5,1012.9 L1774.4,1010.2 L1775.3,1007.4 L1776.2,1004.7 L1777.2,1002.0 L1778.1,999.2 L1779.0,996.5 L1779.9,993.8 L1780.9,991.1 L1781.8,988.3 L1782.7,985.6 L1783.7,982.9 L1784.6,980.2 L1785.6,977.4 L1786.5,974.7 L1787.5,972.0 L1788.4,969.2 L1789.3,966.5 L1790.3,963.8 L1791.3,961.1 L1792.2,958.3 L1793.2,955.6 L1794.1,952.9 L1795.1,950.2 L1796.0,947.4 L1797.0,944.7 L1798.0,942.0 L1798.9,939.3 L1799.9,936.6 L1800.9,933.8 L1801.8,931.1 L1802.8,928.4 L1803.8,925.7 L1804.8,922.9 L1805.7,920.2 L1806.7,917.5 L1807.7,914.8 L1808.7,912.0 L1809.6,909.3 L1810.6,906.6 L1811.6,903.9 L1812.6,901.2 L1813.6,898.4 L1814.6,895.7 L1815.5,893.0 L1816.5,890.3 L1817.5,887.5 L1818.5,884.8 L1819.5,882.1 L1820.5,879.4 L1821.5,876.6 L1822.5,873.9 L1823.5,871.2 L1824.5,868.5 L1825.5,865.7 L1826.4,863.0 L1827.4,860.3 L1828.4,857.5 L1829.4,854.8 L1830.4,852.1 L1831.4,849.3 L1832.4,846.6 L1833.4,843.9 L1834.4,841.2 L1835.4,838.4 L1836.4,835.7 L1837.4,833.0 L1838.4,830.2 L1839.4,827.5 L1840.4,824.8 L1841.5,822.0 L1842.5,819.3 L1843.5,816.6 L1844.5,813.8 L1845.5,811.1 L1846.5,808.4 L1847.5,805.6 L1848.6,802.9 L1849.6,800.2 L1850.6,797.5 L1851.7,794.7 L1852.7,792.0 L1853.8,789.3 L1854.8,786.6 L1855.9,783.9 L1856.9,781.2 L1858.0,778.5 L1859.1,775.8 L1860.2,773.1 L1861.2,770.4 L1862.3,767.7 L1863.4,765.0 L1864.5,762.3 L1865.7,759.6 L1866.8,757.0 L1867.9,754.3 L1869.1,751.6 L1870.2,749.0 L1871.4,746.3 L1872.5,743.7 L1873.7,741.0 L1874.9,738.4 L1876.1,735.7 L1877.3,733.1 L1878.5,730.5 L1879.7,727.9 L1880.9,725.3 L1882.2,722.7 L1883.5,720.1 L1884.7,717.5 L1886.0,714.9 L1887.3,712.4 L1888.6,709.8 L1889.9,707.2 L1891.2,704.7 L1892.6,702.2 L1893.9,699.6 L1895.3,697.1 L1896.7,694.6 L1898.1,692.1 L1899.5,689.6 L1900.9,687.1 L1902.4,684.6 L1903.8,682.2 L1905.3,679.7 L1906.8,677.3 L1908.3,674.8 L1909.8,672.4 L1911.3,670.0 L1912.9,667.6 L1914.4,665.2 L1916.0,662.8 L1917.6,660.4 L1919.2,658.1 L1920.9,655.7 L1922.5,653.4 L1924.2,651.1 L1925.9,648.7 L1927.6,646.4 L1929.3,644.2 L1931.0,641.9 L1932.8,639.6 L1934.6,637.4 L1936.4,635.1 L1938.2,632.9 L1940.1,630.7 L1941.9,628.5 L1943.8,626.3 L1945.7,624.2 L1947.7,622.0 L1949.6,619.9 L1951.6,617.7 L1953.6,615.6 L1955.6,613.5 L1957.6,611.4 L1959.7,609.4 L1961.8,607.3 L1963.9,605.3 L1966.0,603.3 L1968.2,601.3 L1970.3,599.3 L1972.5,597.3 L1974.8,595.4 L1977.0,593.4 L1979.3,591.5 L1981.6,589.7 L1983.9,587.8 L1986.3,586.1 L1988.7,584.3 L1991.1,582.6 L1993.5,581.0 L1995.9,579.4 L1998.4,577.9 L2000.9,576.4 L2003.4,575.1 L2006.0,573.8 L2008.5,572.5 L2011.1,571.4 L2013.7,570.4 L2016.4,569.4 L2019.0,568.6 L2021.7,567.8 L2024.4,567.2 L2027.2,566.6 L2029.9,566.2 L2032.7,565.9 L2035.5,565.7 L2038.3,565.7 L2041.2,565.7 L2044.0,565.8 L2046.8,566.1 L2049.7,566.4 L2052.5,566.8 L2055.3,567.4 L2058.1,568.0 L2061.0,568.7 L2063.7,569.5 L2066.5,570.4 L2069.3,571.3 L2072.0,572.4 L2074.7,573.5 L2077.4,574.7 L2080.0,576.0 L2082.6,577.3 L2085.2,578.8 L2087.8,580.2 L2090.3,581.8 L2092.8,583.4 L2095.2,585.0 L2097.6,586.7 L2100.0,588.5 L2102.4,590.3 L2104.7,592.2 L2107.0,594.1 L2109.2,596.0 L2111.4,598.0 L2113.6,600.0 L2115.7,602.0 L2117.8,604.1 L2119.8,606.2 L2121.8,608.3 L2123.8,610.5 L2125.7,612.6 L2127.6,614.8 L2129.5,617.0 L2131.4,619.3 L2133.2,621.5 L2134.9,623.8 L2136.7,626.1 L2138.4,628.4 L2140.2,630.7 L2141.8,633.1 L2143.5,635.4 L2145.2,637.8 L2146.8,640.1 L2148.4,642.5 L2150.1,644.9 L2151.7,647.3 L2153.3,649.7 L2154.9,652.1 L2156.4,654.5 L2158.0,656.9 L2159.6,659.3 L2161.2,661.7 L2162.7,664.1 L2164.3,666.5 L2165.9,668.9 L2167.5,671.2 L2169.1,673.6 L2170.7,676.0" stroke="#00f"/>
<path d="M135.0,970.4 L140.4,971.4 L145.8,972.5 L151.2,973.8 L156.4,975.2 L161.7,976.8 L166.8,978.5 L171.9,980.2 L177.0,982.2 L182.0,984.2 L186.9,986.4 L191.8,988.6 L196.7,991.0 L201.5,993.4 L206.2,996.0 L210.9,998.7 L215.6,1001.4 L220.2,1004.2 L224.7,1007.2 L229.2,1010.2 L233.7,1013.2 L238.1,1016.4 L242.5,1019.6 L246.8,1022.9 L251.1,1026.2 L255.4,1029.7 L259.6,1033.1 L263.7,1036.6 L267.9,1040.2 L272.0,1043.8 L276.0,1047.4 L280.1,1051.1 L284.0,1054.8 L288.0,1058.5 L291.9,1062.3 L295.8,1066.1 L299.6,1069.9 L303.5,1073.8 L307.2,1077.7 L311.0,1081.6 L314.7,1085.5 L318.4,1089.5 L322.1,1093.5 L325.7,1097.5 L329.3,1101.6 L332.9,1105.7 L336.5,1109.8 L340.0,1113.9 L343.5,1118.0 L347.0,1122.2 L350.4,1126.4 L353.8,1130.6 L357.2,1134.8 L360.6,1139.1 L364.0,1143.3 L367.3,1147.6 L370.6,1151.9 L373.9,1156.3 L377.2,1160.6 L380.5,1164.9 L383.7,1169.3 L386.9,1173.7 L390.1,1178.1 L393.3,1182.5 L396.5,1186.9 L399.6,1191.3 L402.8,1195.8 L405.9,1200.2 L409.0,1204.7 L412.1,1209.2 L415.2,1213.7 L418.3,1218.2 L421.3,1222.7 L424.4,1227.2 L427.4,1231.7 L430.5,1236.2 L433.5,1240.7 L436.5,1245.2 L439.5,1249.8 L442.5,1254.3 L445.5,1258.8 L448.5,1263.4 L451.5,1267.9 L454.5,1272.5 L457.4,1277.0 L460.4,1281.5 L463.4,1286.1 L466.4,1290.6 L469.3,1295.2 L472.3,1299.7 L475.2,1304.3 L478.2,1308.8 L481.1,1313.3 L484.1,1317.9 L487.1,1322.4 L490.0,1327.0 L493.0,1331.5 L495.9,1336.0 L498.9,1340.6 L501.9,1345.1 L504.8,1349.6 L507.8,1354.2 L510.8,1358.7 L513.8,1363.2 L516.8,1367.7 L519.8,1372.2 L522.8,1376.7 L525.8,1381.2 L528.8,1385.7 L531.8,1390.2 L534.8,1394.7 L537.9,1399.2 L540.9,1403.7 L544.0,1408.2 L547.0,1412.7 L550.1,1417.1 L553.2,1421.6 L556.3,1426.0 L559.4,1430.5 L562.5,1434.9 L565.6,1439.3 L568.8,1443.8 L571.9,1448.2 L575.1,1452.6 L578.3,1457.0 L581.5,1461.4 L584.7,1465.8 L587.9,1470.2 L591.2,1474.5 L594.5,1478.9 L597.7,1483.3 L601.0,1487.6 L604.4,1491.9 L607.7,1496.3 L611.1,1500.6 L614.5,1504.8 L617.9,1509.1 L621.3,1513.3 L624.8,1517.5 L628.3,1521.7 L631.9,1525.8 L635.5,1529.8 L639.1,1533.9 L642.8,1537.8 L646.6,1541.7 L650.4,1545.5 L654.3,1549.3 L658.2,1553.0 L662.2,1556.6 L666.2,1560.2 L670.3,1563.6 L674.5,1567.0 L678.8,1570.2 L683.1,1573.4 L687.5,1576.5 L692.0,1579.4 L696.6,1582.2 L701.4,1584.8 L706.2,1587.1 L711.2,1589.2 L715.8,1588.7 L720.3,1588.3 L724.9,1587.8 L729.4,1587.3 L734.0,1586.9 L738.6,1586.4 L743.1,1585.9 L747.7,1585.4 L752.2,1584.9 L756.7,1584.4 L761.3,1583.9 L765.8,1583.4 L770.4,1582.8 L774.9,1582.3 L779.4,1581.8 L784.0,1581.3 L788.5,1580.7 L793.0,1580.2 L797.6,1579.6 L802.1,1579.1 L806.6,1578.5 L811.2,1577.9 L815.7,1577.4 L820.2,1576.8 L824.7,1576.2 L829.2,1575.6 L833.8,1575.0 L838.3,1574.5 L842.8,1573.9 L847.3,1573.3 L851.8,1572.7 L856.3,1572.0 L860.8,1571.4 L865.3,1570.8 L869.9,1570.2 L874.4,1569.6 L878.9,1568.9 L883.4,1568.3 L887.9,1567.7 L892.4,1567.0 L896.9,1566.4 L901.4,1565.7 L905.9,1565.1 L910.4,1564.4 L914.9,1563.8 L919.4,1563.1 L923.9,1562.4 L928.4,1561.8 L932.9,1561.1 L937.4,1560.4 L941.9,1559.7 L946.4,1559.1 L950.9,1558.4 L955.4,1557.7 L959.9,1557.0 L964.4,1556.3 L968.9,1555.6 L973.4,1554.9 L977.9,1554.2 L982.4,1553.5 L986.9,1552.8 L991.4,1552.1 L995.9,1551.4 L1000.4,1550.6 L1004.9,1549.9 L1009.4,1549.2 L1013.9,1548.5 L1018.4,1547.8 L1022.9,1547.0 L1027.4,1546.3 L1031.9,1545.6 L1036.4,1544.8 L1040.9,1544.1 L1045.5,1543.4 L1050.0,1542.6 L1054.5,1541.9 L1059.0,1541.1 L1063.5,1540.4 L1068.0,1539.6 L1072.5,1538.9 L1077.0,1538.1 L1081.5,1537.4 L1086.1,1536.6 L1090.6,1535.8 L1095.1,1535.1 L1099.6,1534.3 L1104.1,1533.5 L1108.6,1532.8 L1113.1,1532.0 L1117.6,1531.2 L1122.2,1530.4 L1126.7,1529.6 L1131.2,1528.8 L1135.7,1528.0 L1140.2,1527.2 L1144.7,1526.3 L1149.2,1525.5 L1153.7,1524.7 L1158.2,1523.8 L1162.7,1523.0 L1167.2,1522.1 L1171.7,1521.2 L1176.2,1520.4 L1180.7,1519.5 L1185.2,1518.6 L1189.7,1517.7 L1194.2,1516.8 L1198.7,1515.9 L1203.1,1514.9 L1207.6,1514.0 L1212.1,1513.0 L1216.6,1512.1 L1221.0,1511.1 L1225.5,1510.1 L1230.0,1509.1 L1234.4,1508.1 L1238.9,1507.1 L1243.3,1506.1 L1247.8,1505.0 L1252.2,1504.0 L1256.7,1502.9 L1261.1,1501.9 L1265.5,1500.8 L1270.0,1499.7 L1274.4,1498.5 L1278.8,1497.4 L1283.2,1496.3 L1287.6,1495.1 L1292.0,1493.9 L1296.4,1492.7 L1300.8,1491.5 L1305.2,1490.3 L1309.6,1489.1 L1314.0,1487.8 L1318.4,1486.5 L1322.7,1485.3 L1327.1,1484.0 L1331.4,1482.6 L1335.8,1481.3 L1340.1,1479.9 L1344.5,1478.6 L1348.8,1477.2 L1353.1,1475.8 L1357.4,1474.4 L1361.8,1472.9 L1366.1,1471.4 L1370.4,1470.0 L1374.6,1468.5 L1378.9,1466.9 L1383.2,1465.4 L1387.5,1463.8 L1391.7,1462.2 L1396.0,1460.6 L1400.2,1459.0 L1404.5,1457.4 L1408.7,1455.7 L1412.9,1454.0 L1417.1,1452.3 L1421.3,1450.6 L1425.5,1448.8 L1429.7,1447.0 L1433.9,1445.2 L1438.1,1443.4 L1442.2,1441.6 L1446.4,1439.7 L1450.5,1437.8 L1454.6,1435.9 L1458.8,1433.9 L1462.9,1431.9 L1467.0,1429.9 L1471.1,1427.9 L1475.1,1425.9 L1479.2,1423.8 L1483.2,1421.7 L1487.3,1419.6 L1491.3,1417.4 L1495.3,1415.2 L1499.3,1413.0 L1503.3,1410.8 L1507.3,1408.5 L1511.2,1406.3 L1515.2,1403.9 L1519.1,1401.6 L1523.0,1399.2 L1526.9,1396.8 L1530.8,1394.4 L1534.7,1391.9 L1538.5,1389.4 L1542.4,1386.9 L1546.2,1384.3 L1550.0,1381.8 L1553.8,1379.1 L1557.5,1376.5 L1561.2,1373.8 L1564.9,1371.0 L1568.5,1368.2 L1572.0,1365.4 L1575.6,1362.4 L1579.0,1359.5 L1582.4,1356.5 L1585.7,1353.4 L1589.0,1350.3 L1592.1,1347.0 L1595.2,1343.8 L1598.2,1340.4 L1601.2,1337.0 L1604.1,1333.6 L1606.9,1330.1 L1609.7,1326.6 L1612.5,1323.0 L1615.2,1319.4 L1617.9,1315.8 L1620.6,1312.1 L1623.2,1308.4 L1625.8,1304.7 L1628.4,1301.0 L1631.1,1297.3 L1633.7,1293.6 L1636.3,1289.8 L1638.9,1286.1 L1641.6,1282.4 L1644.2,1278.6 L1646.9,1274.9 L1649.5,1271.2 L1652.1,1267.4 L1654.7,1263.7 L1657.3,1259.9 L1659.9,1256.1 L1662.4,1252.3 L1664.9,1248.5 L1667.4,1244.7 L1669.8,1240.9 L1672.2,1237.0 L1674.6,1233.1 L1676.9,1229.3 L1679.2,1225.3 L1681.5,1221.4 L1683.7,1217.5 L1686.0,1213.6 L1688.2,1209.6 L1690.5,1205.7 L1692.7,1201.8 L1695.0,1197.8 L1697.3,1193.9 L1699.6,1190.0 L1702.0,1186.1 L1704.4,1182.2 L1706.9,1178.3 L1709.4,1174.5 L1712.0,1170.7 L1714.6,1166.8 L1717.2,1163.1 L1719.9,1159.3 L1722.6,1155.5 L1725.3,1151.8 L1728.1,1148.1 L1730.9,1144.4 L1733.7,1140.7 L1736.5,1137.1 L1739.3,1133.4 L1742.1,1129.8 L1744.9,1126.3 L1747.7,1122.7 L1750.5,1119.1 L1753.3,1115.6 L1756.1,1112.1 L1759.0,1108.6 L1761.8,1105.2 L1764.7,1101.7 L1767.5,1098.3 L1770.4,1094.8 L1773.3,1091.4 L1776.2,1088.0 L1779.1,1084.6 L1782.1,1081.2 L1785.0,1077.9 L1788.0,1074.5 L1791.1,1071.1 L1794.1,1067.8 L1797.2,1064.4 L1800.3,1061.0 L1803.4,1057.7 L1806.6,1054.4 L1809.8,1051.0 L1813.0,1047.7 L1816.3,1044.4 L1819.6,1041.1 L1822.9,1037.9 L1826.3,1034.6 L1829.7,1031.5 L1833.1,1028.3 L1836.6,1025.2 L1840.1,1022.1 L1843.6,1019.1 L1847.2,1016.2 L1850.8,1013.3 L1854.5,1010.4 L1858.2,1007.7 L1861.9,1005.0 L1865.7,1002.3 L1869.5,999.8 L1873.3,997.3 L1877.2,994.9 L1881.2,992.6 L1885.1,990.5 L1889.1,988.3 L1893.2,986.4 L1897.3,984.5 L1901.4,982.7 L1905.6,981.0 L1909.8,979.5 L1914.1,978.0 L1918.4,976.7 L1922.7,975.5 L1927.1,974.4 L1931.5,973.5 L1936.0,972.7 L1940.4,971.9 L1944.9,971.3 L1949.4,970.9 L1953.9,970.5 L1958.5,970.2 L1963.0,970.1 L1967.5,970.1 L1972.1,970.1 L1976.7,970.3 L1981.2,970.6 L1985.7,971.0 L1990.3,971.6 L1994.8,972.2 L1999.3,972.9 L2003.8,973.8 L2008.3,974.8 L2012.7,975.8 L2017.1,977.0 L2021.5,978.2 L2025.9,979.6 L2030.2,981.1 L2034.5,982.7 L2038.7,984.4 L2042.9,986.1 L2047.1,988.0 L2051.2,990.0 L2055.3,992.0 L2059.3,994.1 L2063.3,996.3 L2067.3,998.6 L2071.2,1001.0 L2075.1,1003.4 L2079.0,1005.9 L2082.8,1008.5 L2086.6,1011.1 L2090.4,1013.8 L2094.1,1016.5 L2097.8,1019.3 L2101.4,1022.2 L2105.0,1025.0 L2108.6,1028.0 L2112.2,1030.9 L2115.7,1033.9 L2119.2,1037.0 L2122.6,1040.0 L2126.1,1043.1 L2129.5,1046.2 L2132.8,1049.3 L2136.2,1052.4 L2139.5,1055.6 L2142.8,1058.8 L2146.1,1061.9 L2149.3,1065.1 L2152.5,1068.3 L2155.7,1071.6 L2158.8,1074.8 L2162.0,1078.1 L2165.1,1081.3 L2168.2,1084.6 L2171.2,1087.9 L2174.3,1091.3 L2177.3,1094.6 L2180.3,1098.0 L2183.3,1101.4 L2186.2,1104.8 L2189.2,1108.2 L2192.1,1111.7 L2195.0,1115.1 L2197.9,1118.6 L2200.7,1122.1 L2203.6,1125.7 L2206.4,1129.2 L2209.2,1132.8 L2212.0,1136.4 L2214.8,1140.1 L2217.6,1143.7 L2220.3,1147.4 L2223.1,1151.1 L2225.8,1154.8 L2228.5,1158.6 L2231.2,1162.4 L2233.9,1166.2" stroke="#f00"/>
<path d="M111.5,1147.7 L117.1,1148.1 L122.6,1148.6 L128.1,1149.2 L133.6,1149.9 L139.0,1150.8 L144.4,1151.8 L149.7,1152.9 L155.1,1154.0 L160.4,1155.4 L165.6,1156.8 L170.9,1158.2 L176.1,1159.8 L181.3,1161.5 L186.4,1163.3 L191.5,1165.1 L196.6,1167.0 L201.7,1169.0 L206.8,1171.1 L211.8,1173.2 L216.8,1175.3 L221.8,1177.6 L226.8,1179.9 L231.7,1182.2 L236.6,1184.5 L241.5,1187.0 L246.4,1189.4 L251.3,1191.9 L256.2,1194.4 L261.0,1196.9 L265.8,1199.5 L270.6,1202.1 L275.4,1204.7 L280.2,1207.3 L285.0,1210.0 L289.7,1212.7 L294.4,1215.4 L299.2,1218.1 L303.9,1220.9 L308.5,1223.7 L313.2,1226.5 L317.9,1229.3 L322.5,1232.2 L327.1,1235.1 L331.8,1238.0 L336.4,1240.9 L340.9,1243.9 L345.5,1246.9 L350.1,1249.9 L354.6,1252.9 L359.2,1255.9 L363.7,1259.0 L368.2,1262.1 L372.7,1265.2 L377.2,1268.3 L381.7,1271.4 L386.1,1274.6 L390.6,1277.8 L395.0,1281.0 L399.4,1284.2 L403.9,1287.5 L408.3,1290.7 L412.7,1294.0 L417.1,1297.3 L421.4,1300.6 L425.8,1303.9 L430.1,1307.2 L434.5,1310.6 L438.8,1314.0 L443.2,1317.4 L447.5,1320.8 L451.8,1324.2 L456.1,1327.6 L460.4,1331.1 L464.7,1334.5 L468.9,1338.0 L473.2,1341.4 L477.5,1344.9 L481.8,1348.4 L486.0,1351.9 L490.3,1355.3 L494.6,1358.8 L498.9,1362.3 L503.1,1365.7 L507.4,1369.2 L511.7,1372.6 L516.0,1376.1 L520.3,1379.5 L524.6,1382.9 L528.9,1386.3 L533.2,1389.7 L537.6,1393.0 L541.9,1396.4 L546.3,1399.7 L550.6,1403.0 L555.0,1406.2 L559.4,1409.5 L563.8,1412.7 L568.3,1415.9 L572.7,1419.0 L577.2,1422.1 L581.7,1425.2 L586.2,1428.3 L590.7,1431.3 L595.3,1434.2 L599.8,1437.2 L604.5,1440.0 L609.1,1442.9 L613.7,1445.7 L618.4,1448.4 L623.1,1451.1 L627.9,1453.7 L632.7,1456.3 L637.5,1458.8 L642.3,1461.3 L647.2,1463.7 L652.1,1466.0 L657.0,1468.2 L662.0,1470.3 L667.1,1472.4 L672.1,1474.3 L677.3,1476.1 L682.4,1477.8 L687.6,1479.4 L692.9,1480.8 L698.2,1482.1 L703.6,1483.2 L709.0,1484.2 L714.3,1483.7 L719.7,1483.1 L725.0,1482.6 L730.4,1482.0 L735.7,1481.5 L741.0,1481.0 L746.4,1480.4 L751.7,1479.9 L757.0,1479.3 L762.4,1478.8 L767.7,1478.3 L773.0,1477.7 L778.4,1477.2 L783.7,1476.6 L789.0,1476.1 L794.3,1475.6 L799.7,1475.0 L805.0,1474.5 L810.3,1473.9 L815.6,1473.4 L821.0,1472.8 L826.3,1472.3 L831.6,1471.7 L836.9,1471.2 L842.3,1470.6 L847.6,1470.1 L852.9,1469.5 L858.2,1468.9 L863.5,1468.4 L868.9,1467.8 L874.2,1467.3 L879.5,1466.7 L884.8,1466.1 L890.1,1465.5 L895.4,1465.0 L900.7,1464.4 L906.1,1463.8 L911.4,1463.2 L916.7,1462.7 L922.0,1462.1 L927.3,1461.5 L932.6,1460.9 L937.9,1460.3 L943.2,1459.7 L948.5,1459.1 L953.9,1458.5 L959.2,1457.9 L964.5,1457.3 L969.8,1456.7 L975.1,1456.1 L980.4,1455.4 L985.7,1454.8 L991.0,1454.2 L996.3,1453.6 L1001.6,1452.9 L1006.9,1452.3 L1012.2,1451.7 L1017.5,1451.0 L1022.8,1450.4 L1028.1,1449.7 L1033.4,1449.1 L1038.7,1448.4 L1044.0,1447.7 L1049.3,1447.1 L1054.6,1446.4 L1059.9,1445.7 L1065.2,1445.0 L1070.5,1444.3 L1075.8,1443.7 L1081.1,1443.0 L1086.4,1442.3 L1091.7,1441.5 L1097.0,1440.8 L1102.3,1440.1 L1107.6,1439.4 L1112.9,1438.7 L1118.1,1437.9 L1123.4,1437.2 L1128.7,1436.5 L1134.0,1435.7 L1139.3,1434.9 L1144.6,1434.2 L1149.9,1433.4 L1155.2,1432.6 L1160.5,1431.9 L1165.8,1431.1 L1171.1,1430.3 L1176.3,1429.5 L1181.6,1428.7 L1186.9,1427.9 L1192.2,1427.1 L1197.5,1426.2 L1202.8,1425.4 L1208.1,1424.6 L1213.4,1423.7 L1218.6,1422.9 L1223.9,1422.0 L1229.2,1421.2 L1234.5,1420.3 L1239.8,1419.4 L1245.1,1418.5 L1250.4,1417.7 L1255.6,1416.8 L1260.9,1415.8 L1266.2,1414.9 L1271.5,1414.0 L1276.8,1413.1 L1282.1,1412.1 L1287.3,1411.2 L1292.6,1410.3 L1297.9,1409.3 L1303.2,1408.3 L1308.5,1407.3 L1313.7,1406.4 L1319.0,1405.4 L1324.3,1404.4 L1329.6,1403.4 L1334.9,1402.3 L1340.2,1401.3 L1345.4,1400.3 L1350.7,1399.2 L1356.0,1398.2 L1361.3,1397.1 L1366.5,1396.0 L1371.8,1394.9 L1377.1,1393.8 L1382.3,1392.7 L1387.6,1391.5 L1392.8,1390.3 L1398.1,1389.2 L1403.3,1388.0 L1408.5,1386.7 L1413.8,1385.5 L1419.0,1384.2 L1424.2,1382.9 L1429.4,1381.6 L1434.6,1380.3 L1439.8,1378.9 L1445.0,1377.5 L1450.2,1376.1 L1455.3,1374.7 L1460.5,1373.2 L1465.6,1371.7 L1470.7,1370.2 L1475.9,1368.7 L1481.0,1367.1 L1486.1,1365.5 L1491.1,1363.8 L1496.2,1362.1 L1501.3,1360.4 L1506.3,1358.7 L1511.3,1356.9 L1516.4,1355.1 L1521.4,1353.2 L1526.3,1351.3 L1531.3,1349.4 L1536.3,1347.4 L1541.2,1345.4 L1546.1,1343.3 L1551.0,1341.2 L1555.9,1339.0 L1560.7,1336.8 L1565.5,1334.5 L1570.3,1332.2 L1575.0,1329.8 L1579.7,1327.4 L1584.4,1324.8 L1589.0,1322.3 L1593.7,1319.7 L1598.2,1317.0 L1602.8,1314.2 L1607.3,1311.5 L1611.8,1308.6 L1616.3,1305.8 L1620.7,1302.8 L1625.1,1299.9 L1629.5,1296.8 L1633.9,1293.8 L1638.2,1290.7 L1642.5,1287.5 L1646.8,1284.3 L1651.0,1281.1 L1655.2,1277.9 L1659.5,1274.6 L1663.7,1271.3 L1667.8,1267.9 L1672.0,1264.6 L1676.2,1261.2 L1680.3,1257.8 L1684.5,1254.4 L1688.6,1251.0 L1692.8,1247.7 L1697.0,1244.3 L1701.2,1240.9 L1705.4,1237.6 L1709.6,1234.3 L1713.8,1231.0 L1718.1,1227.7 L1722.4,1224.5 L1726.7,1221.3 L1731.0,1218.2 L1735.4,1215.1 L1739.9,1212.0 L1744.3,1209.0 L1748.8,1206.1 L1753.4,1203.2 L1757.9,1200.4 L1762.5,1197.6 L1767.2,1194.9 L1771.9,1192.2 L1776.6,1189.6 L1781.3,1187.1 L1786.1,1184.6 L1790.9,1182.2 L1795.7,1179.9 L1800.5,1177.6 L1805.4,1175.4 L1810.3,1173.3 L1815.3,1171.2 L1820.2,1169.3 L1825.2,1167.4 L1830.3,1165.5 L1835.3,1163.8 L1840.4,1162.1 L1845.4,1160.5 L1850.5,1159.0 L1855.7,1157.5 L1860.8,1156.2 L1866.0,1154.9 L1871.2,1153.8 L1876.4,1152.7 L1881.6,1151.7 L1886.8,1150.8 L1892.1,1149.9 L1897.4,1149.2 L1902.6,1148.6 L1907.9,1148.0 L1913.2,1147.6 L1918.6,1147.3 L1923.9,1147.0 L1929.2,1146.8 L1934.6,1146.7 L1939.9,1146.8 L1945.3,1146.8 L1950.6,1147.0 L1956.0,1147.3 L1961.3,1147.7 L1966.7,1148.1 L1972.0,1148.6 L1977.3,1149.2 L1982.7,1149.9 L1988.0,1150.7 L1993.3,1151.5 L1998.6,1152.5 L2003.9,1153.5 L2009.1,1154.6 L2014.4,1155.7 L2019.6,1157.0 L2024.8,1158.3 L2030.0,1159.7 L2035.2,1161.1 L2040.4,1162.7 L2045.5,1164.3 L2050.6,1166.0 L2055.7,1167.7 L2060.7,1169.5 L2065.7,1171.4 L2070.7,1173.4 L2075.6,1175.4 L2080.5,1177.5 L2085.4,1179.6 L2090.3,1181.8 L2095.1,1184.1 L2099.9,1186.4 L2104.7,1188.8 L2109.4,1191.2 L2114.1,1193.7 L2118.8,1196.2 L2123.5,1198.7 L2128.1,1201.4 L2132.8,1204.0 L2137.4,1206.7 L2142.0,1209.5 L2146.5,1212.2 L2151.1,1215.1 L2155.6,1217.9 L2160.1,1220.8 L2164.6,1223.7 L2169.1,1226.6 L2173.6,1229.6 L2178.0,1232.6 L2182.5,1235.6 L2186.9,1238.7 L2191.3,1241.7 L2195.7,1244.8 L2200.1,1247.9 L2204.5,1251.0 L2208.9,1254.1 L2213.2,1257.2 L2217.6,1260.4 L2222.0,1263.5 L2226.3,1266.7 L2230.7,1269.8 L2235.0,1273.0 L2239.4,1276.1 L2243.7,1279.3 L2248.0,1282.4 L2252.4,1285.6 L2256.7,1288.7 L2261.1,1291.8 L2265.4,1294.9 L2269.8,1298.0 L2274.1,1301.1 L2278.5,1304.2 L2282.9,1307.2 L2287.2,1310.3 L2291.6,1313.3 L2296.0,1316.2 L2300.4,1319.2" stroke="#0f0"/>
<path d="M-361.6,1345.8 L-349.1,1344.9 L-336.5,1344.1 L-324.0,1343.3 L-311.5,1342.5 L-298.9,1341.8 L-286.4,1341.1 L-273.8,1340.5 L-261.3,1339.8 L-248.8,1339.2 L-236.2,1338.7 L-223.7,1338.1 L-211.2,1337.6 L-198.6,1337.2 L-186.1,1336.7 L-173.5,1336.3 L-161.0,1335.9 L-148.5,1335.6 L-135.9,1335.3 L-123.4,1335.0 L-110.8,1334.7 L-98.3,1334.5 L-85.8,1334.3 L-73.2,1334.1 L-60.7,1333.9 L-48.1,1333.8 L-35.6,1333.7 L-23.1,1333.6 L-10.5,1333.6 L2.0,1333.6 L14.6,1333.6 L27.1,1333.6 L39.6,1333.7 L52.2,1333.8 L64.7,1333.9 L77.3,1334.0 L89.8,1334.2 L102.3,1334.3 L114.9,1334.5 L127.4,1334.8 L140.0,1335.0 L152.5,1335.3 L165.0,1335.6 L177.6,1335.9 L190.1,1336.2 L202.6,1336.5 L215.2,1336.9 L227.7,1337.3 L240.3,1337.7 L252.8,1338.1 L265.3,1338.6 L277.9,1339.1 L290.4,1339.5 L302.9,1340.0 L315.5,1340.6 L328.0,1341.1 L340.5,1341.7 L353.1,1342.2 L365.6,1342.8 L378.1,1343.4 L390.7,1344.0 L403.2,1344.7 L415.7,1345.3 L428.2,1346.0 L440.8,1346.6 L453.3,1347.3 L465.8,1348.0 L478.4,1348.7 L490.9,1349.4 L503.4,1350.0 L515.9,1350.7 L528.5,1351.4 L541.0,1352.0 L553.5,1352.7 L566.1,1353.3 L578.6,1353.9 L591.1,1354.5 L603.6,1355.1 L616.2,1355.7 L628.7,1356.2 L641.2,1356.7 L653.8,1357.2 L666.3,1357.6 L678.8,1358.0 L691.4,1358.4 L703.9,1358.8 L716.5,1359.1 L729.0,1359.3 L745.1,1359.3 L761.2,1359.2 L777.2,1359.2 L793.3,1359.1 L809.4,1359.0 L825.5,1359.0 L841.5,1358.9 L857.6,1358.8 L873.7,1358.7 L889.8,1358.6 L905.8,1358.4 L921.9,1358.3 L938.0,1358.2 L954.0,1358.0 L970.1,1357.9 L986.2,1357.7 L1002.3,1357.5 L1018.3,1357.3 L1034.4,1357.1 L1050.5,1356.9 L1066.5,1356.6 L1082.6,1356.4 L1098.7,1356.1 L1114.7,1355.8 L1130.8,1355.5 L1146.9,1355.2 L1163.0,1354.9 L1179.0,1354.6 L1195.1,1354.2 L1211.2,1353.8 L1227.2,1353.4 L1243.3,1353.0 L1259.4,1352.6 L1275.4,1352.2 L1291.5,1351.7 L1307.6,1351.2 L1323.6,1350.8 L1339.7,1350.2 L1355.8,1349.7 L1371.8,1349.2 L1387.9,1348.6 L1404.0,1348.0 L1420.0,1347.5 L1436.1,1346.9 L1452.2,1346.3 L1468.2,1345.7 L1484.3,1345.1 L1500.4,1344.5 L1516.4,1343.9 L1532.5,1343.3 L1548.6,1342.6 L1564.6,1342.1 L1580.7,1341.5 L1596.8,1340.9 L1612.8,1340.3 L1628.9,1339.8 L1645.0,1339.2 L1661.0,1338.7 L1677.1,1338.2 L1693.2,1337.7 L1709.2,1337.2 L1725.3,1336.8 L1741.3,1336.3 L1757.4,1335.9 L1773.5,1335.6 L1789.5,1335.2 L1805.6,1334.9 L1821.7,1334.6 L1837.7,1334.4 L1853.8,1334.2 L1869.9,1334.0 L1885.9,1333.9 L1902.0,1333.8 L1918.1,1333.7 L1934.1,1333.7 L1950.2,1333.7 L1966.3,1333.8 L1982.3,1333.9 L1998.4,1334.0 L2014.5,1334.2 L2030.5,1334.4 L2046.6,1334.7 L2062.7,1335.0 L2078.7,1335.4 L2094.8,1335.8 L2110.8,1336.3 L2126.9,1336.8 L2142.9,1337.4 L2159.0,1338.0 L2175.0,1338.7 L2191.1,1339.4 L2207.2,1340.2 L2223.2,1341.0 L2239.2,1341.9 L2255.3,1342.9 L2271.3,1343.9 L2287.4,1344.9 L2303.4,1346.0 L2319.5,1347.2 L2335.5,1348.5 L2351.5,1349.7 L2367.6,1351.1 L2383.6,1352.5" stroke="#f0f"/>
</g>
<circle cx="251.3" cy="415.8" r="15.4" fill="none" stroke="#000" stroke-width="6.6"/>
<circle cx="346.4" cy="505.3" r="15.4" fill="none" stroke="#000" stroke-width="6.6"/>
<circle cx="405.6" cy="597.8" r="15.4" fill="none" stroke="#000" stroke-width="6.6"/>
<circle cx="467.2" cy="765.8" r="15.4" fill="none" stroke="#000" stroke-width="6.6"/>
<circle cx="512.1" cy="952.0" r="15.4" fill="none" stroke="#000" stroke-width="6.6"/>
<circle cx="563.6" cy="1125.6" r="15.4" fill="none" stroke="#000" stroke-width="6.6"/>
<circle cx="645.8" cy="1469.5" r="15.4" fill="none" stroke="#000" stroke-width="6.6"/>
<circle cx="683.7" cy="1621.2" r="15.4" fill="none" stroke="#000" stroke-width="6.6"/>
<circle cx="729.0" cy="1716.0" r="15.4" fill="none" stroke="#000" stroke-width="6.6"/>
<circle cx="862.0" cy="1795.8" r="15.4" fill="none" stroke="#000" stroke-width="6.6"/>
<circle cx="1074.9" cy="1813.1" r="15.4" fill="none" stroke="#000" stroke-width="6.6"/>
<circle cx="1249.8" cy="1812.8" r="15.4" fill="none" stroke="#000" stroke-width="6.6"/>
<circle cx="1448.7" cy="1792.2" r="15.4" fill="none" stroke="#000" stroke-width="6.6"/>
<circle cx="1641.3" cy="1709.7" r="15.4" fill="none" stroke="#000" stroke-width="6.6"/>
<circle cx="1685.6" cy="1534.4" r="15.4" fill="none" stroke="#000" stroke-width="6.6"/>
<circle cx="1749.5" cy="1336.2" r="15.4" fill="none" stroke="#000" stroke-width="6.6"/>
<circle cx="1785.4" cy="1141.1" r="15.4" fill="none" stroke="#000" stroke-width="6.6"/>
<circle cx="1857.6" cy="868.7" r="15.4" fill="none" stroke="#000" stroke-width="6.6"/>
<circle cx="1922.5" cy="663.2" r="15.4" fill="none" stroke="#000" stroke-width="6.6"/>
<circle cx="1967.4" cy="532.8" r="15.4" fill="none" stroke="#000" stroke-width="6.6"/>
<circle cx="2097.8" cy="409.1" r="15.4" fill="none" stroke="#000" stroke-width="6.6"/>
<rect x="232.1" y="640.4" width="27.8" height="27.8" fill="none" stroke="#00f" stroke-width="7"/>
<rect x="328.2" y="781.1" width="27.8" height="27.8" fill="none" stroke="#00f" stroke-width="7"/>
<rect x="410.7" y="966.7" width="27.8" height="27.8" fill="none" stroke="#00f" stroke-width="7"/>
<rect x="492.9" y="1165.6" width="27.8" height="27.8" fill="none" stroke="#00f" stroke-width="7"/>
<rect x="551.1" y="1350.9" width="27.8" height="27.8" fill="none" stroke="#00f" stroke-width="7"/>
<rect x="626.9" y="1605.0" width="27.8" height="27.8" fill="none" stroke="#00f" stroke-width="7"/>
<rect x="705.8" y="1725.4" width="27.8" height="27.8" fill="none" stroke="#00f" stroke-width="7"/>
<rect x="928.6" y="1724.7" width="27.8" height="27.8" fill="none" stroke="#00f" stroke-width="7"/>
<rect x="1162.1" y="1700.6" width="27.8" height="27.8" fill="none" stroke="#00f" stroke-width="7"/>
<rect x="1392.3" y="1638.6" width="27.8" height="27.8" fill="none" stroke="#00f" stroke-width="7"/>
<rect x="1566.9" y="1543.1" width="27.8" height="27.8" fill="none" stroke="#00f" stroke-width="7"/>
<rect x="1652.7" y="1347.1" width="27.8" height="27.8" fill="none" stroke="#00f" stroke-width="7"/>
<rect x="1728.3" y="1100.6" width="27.8" height="27.8" fill="none" stroke="#00f" stroke-width="7"/>
<rect x="1783.8" y="945.9" width="27.8" height="27.8" fill="none" stroke="#00f" stroke-width="7"/>
<rect x="1842.0" y="788.4" width="27.8" height="27.8" fill="none" stroke="#00f" stroke-width="7"/>
<rect x="1900.2" y="684.6" width="27.8" height="27.8" fill="none" stroke="#00f" stroke-width="7"/>
<rect x="2003.4" y="606.1" width="27.8" height="27.8" fill="none" stroke="#00f" stroke-width="7"/>
<rect x="2078.9" y="630.4" width="27.8" height="27.8" fill="none" stroke="#00f" stroke-width="7"/>
<path d="M248.3,1066.0 L266.8,1091.5 L229.8,1091.5 Z" fill="none" stroke="#f00" stroke-width="6.2" stroke-linejoin="miter"/>
<path d="M389.7,1188.2 L408.2,1213.7 L371.2,1213.7 Z" fill="none" stroke="#f00" stroke-width="6.2" stroke-linejoin="miter"/>
<path d="M544.3,1411.1 L562.8,1436.6 L525.8,1436.6 Z" fill="none" stroke="#f00" stroke-width="6.2" stroke-linejoin="miter"/>
<path d="M699.0,1538.6 L717.5,1564.1 L680.5,1564.1 Z" fill="none" stroke="#f00" stroke-width="6.2" stroke-linejoin="miter"/>
<path d="M846.7,1541.8 L865.2,1567.3 L828.2,1567.3 Z" fill="none" stroke="#f00" stroke-width="6.2" stroke-linejoin="miter"/>
<path d="M1052.3,1510.8 L1070.8,1536.3 L1033.8,1536.3 Z" fill="none" stroke="#f00" stroke-width="6.2" stroke-linejoin="miter"/>
<path d="M1318.0,1462.8 L1336.5,1488.3 L1299.5,1488.3 Z" fill="none" stroke="#f00" stroke-width="6.2" stroke-linejoin="miter"/>
<path d="M1530.9,1384.3 L1549.4,1409.8 L1512.4,1409.8 Z" fill="none" stroke="#f00" stroke-width="6.2" stroke-linejoin="miter"/>
<path d="M1646.6,1272.7 L1665.1,1298.2 L1628.1,1298.2 Z" fill="none" stroke="#f00" stroke-width="6.2" stroke-linejoin="miter"/>
<path d="M1783.4,1095.8 L1801.9,1121.3 L1764.9,1121.3 Z" fill="none" stroke="#f00" stroke-width="6.2" stroke-linejoin="miter"/>
<path d="M1886.5,1016.3 L1905.0,1041.8 L1868.0,1041.8 Z" fill="none" stroke="#f00" stroke-width="6.2" stroke-linejoin="miter"/>
<path d="M1983.0,1010.1 L2001.5,1035.6 L1964.5,1035.6 Z" fill="none" stroke="#f00" stroke-width="6.2" stroke-linejoin="miter"/>
<path d="M364.7,1256.3 L380.2,1274.3 L364.7,1292.3 L349.2,1274.3 Z" fill="none" stroke="#0f0" stroke-width="6.2" stroke-linejoin="miter"/>
<path d="M445.5,1311.2 L461.0,1329.2 L445.5,1347.2 L430.0,1329.2 Z" fill="none" stroke="#0f0" stroke-width="6.2" stroke-linejoin="miter"/>
<path d="M577.6,1413.6 L593.1,1431.6 L577.6,1449.6 L562.1,1431.6 Z" fill="none" stroke="#0f0" stroke-width="6.2" stroke-linejoin="miter"/>
<path d="M709.0,1461.7 L724.5,1479.7 L709.0,1497.7 L693.5,1479.7 Z" fill="none" stroke="#0f0" stroke-width="6.2" stroke-linejoin="miter"/>
<path d="M843.2,1451.5 L858.7,1469.5 L843.2,1487.5 L827.7,1469.5 Z" fill="none" stroke="#0f0" stroke-width="6.2" stroke-linejoin="miter"/>
<path d="M1042.3,1431.9 L1057.8,1449.9 L1042.3,1467.9 L1026.8,1449.9 Z" fill="none" stroke="#0f0" stroke-width="6.2" stroke-linejoin="miter"/>
<path d="M1247.2,1403.3 L1262.7,1421.3 L1247.2,1439.3 L1231.7,1421.3 Z" fill="none" stroke="#0f0" stroke-width="6.2" stroke-linejoin="miter"/>
<path d="M1426.1,1369.4 L1441.6,1387.4 L1426.1,1405.4 L1410.6,1387.4 Z" fill="none" stroke="#0f0" stroke-width="6.2" stroke-linejoin="miter"/>
<path d="M1611.9,1315.5 L1627.4,1333.5 L1611.9,1351.5 L1596.4,1333.5 Z" fill="none" stroke="#0f0" stroke-width="6.2" stroke-linejoin="miter"/>
<path d="M1738.8,1224.9 L1754.3,1242.9 L1738.8,1260.9 L1723.3,1242.9 Z" fill="none" stroke="#0f0" stroke-width="6.2" stroke-linejoin="miter"/>
<path d="M1862.6,1167.3 L1878.1,1185.3 L1862.6,1203.3 L1847.1,1185.3 Z" fill="none" stroke="#0f0" stroke-width="6.2" stroke-linejoin="miter"/>
<path d="M1948.1,1149.7 L1963.6,1167.7 L1948.1,1185.7 L1932.6,1167.7 Z" fill="none" stroke="#0f0" stroke-width="6.2" stroke-linejoin="miter"/>
<path d="M2096.1,1191.3 L2111.6,1209.3 L2096.1,1227.3 L2080.6,1209.3 Z" fill="none" stroke="#0f0" stroke-width="6.2" stroke-linejoin="miter"/>
<path d="M422.5,1334.2 L394.5,1352.7 L394.5,1315.7 Z" fill="none" stroke="#f0f" stroke-width="6.2" stroke-linejoin="miter"/>
<path d="M717.7,1375.8 L689.7,1394.3 L689.7,1357.3 Z" fill="none" stroke="#f0f" stroke-width="6.2" stroke-linejoin="miter"/>
<path d="M977.5,1371.9 L949.5,1390.4 L949.5,1353.4 Z" fill="none" stroke="#f0f" stroke-width="6.2" stroke-linejoin="miter"/>
<path d="M1297.0,1362.0 L1269.0,1380.5 L1269.0,1343.5 Z" fill="none" stroke="#f0f" stroke-width="6.2" stroke-linejoin="miter"/>
<path d="M1530.5,1358.1 L1502.5,1376.6 L1502.5,1339.6 Z" fill="none" stroke="#f0f" stroke-width="6.2" stroke-linejoin="miter"/>
<path d="M1699.1,1344.3 L1671.1,1362.8 L1671.1,1325.8 Z" fill="none" stroke="#f0f" stroke-width="6.2" stroke-linejoin="miter"/>
<path d="M1832.5,1327.2 L1804.5,1345.7 L1804.5,1308.7 Z" fill="none" stroke="#f0f" stroke-width="6.2" stroke-linejoin="miter"/>
<path d="M1973.7,1317.4 L1945.7,1335.9 L1945.7,1298.9 Z" fill="none" stroke="#f0f" stroke-width="6.2" stroke-linejoin="miter"/>
<path d="M2114.0,1317.0 L2086.0,1335.5 L2086.0,1298.5 Z" fill="none" stroke="#f0f" stroke-width="6.2" stroke-linejoin="miter"/>
<rect x="248.0" y="62.3" width="1856.6" height="1912.0" fill="none" stroke="#000" stroke-width="3.5"/>
<text class="tb" transform="translate(229.34,2044.9) scale(0.9450,1)" font-size="71px">0</text>
<text class="tb" transform="translate(523.83,2044.9) scale(0.9450,1)" font-size="71px">1</text>
<text class="tb" transform="translate(819.84,2044.9) scale(0.9450,1)" font-size="71px">2</text>
<text class="tb" transform="translate(1115.14,2044.9) scale(0.9450,1)" font-size="71px">3</text>
<text class="tb" transform="translate(1410.26,2044.9) scale(0.9450,1)" font-size="71px">4</text>
<text class="tb" transform="translate(1705.21,2044.9) scale(0.9450,1)" font-size="71px">5</text>
<text class="tb" transform="translate(2000.01,2044.9) scale(0.9450,1)" font-size="71px">6</text>
<text class="tb" transform="translate(119.61,84.9) scale(0.9447,1)" font-size="71px">500</text>
<text class="tb" transform="translate(120.78,466.0) scale(0.9346,1)" font-size="71px">440</text>
<text class="tb" transform="translate(119.75,847.0) scale(0.9435,1)" font-size="71px">380</text>
<text class="tb" transform="translate(119.75,1231.1) scale(0.9435,1)" font-size="71px">320</text>
<text class="tb" transform="translate(118.90,1612.4) scale(0.9508,1)" font-size="71px">260</text>
<text class="tb" transform="translate(118.90,1996.9) scale(0.9508,1)" font-size="71px">200</text>
<text transform="translate(1062.98,2126.6) scale(0.9856,1)" font-size="68px">ϕ</text>
<text class="ab" transform="translate(1119.86,2126.6) scale(0.9983,1)" font-size="75px">(rad)</text>
<text class="ab" transform="translate(85.4,1285.3) rotate(-90) translate(-1.66,0.0) scale(0.9579,1)" font-size="77px">Temperature (K)</text>
<rect x="800.2" y="93.4" width="666.5" height="853.8000000000001" fill="#fff" stroke="#000" stroke-width="3.5"/>
<line x1="825.7" y1="139.2" x2="981" y2="139.2" stroke="#000" stroke-width="7.5"/>
<line x1="825.7" y1="224.9" x2="981" y2="224.9" stroke="#00f" stroke-width="7.5"/>
<line x1="825.7" y1="307.6" x2="981" y2="307.6" stroke="#f00" stroke-width="7.5"/>
<line x1="825.7" y1="390.4" x2="981" y2="390.4" stroke="#0f0" stroke-width="7.5"/>
<line x1="825.7" y1="475.7" x2="981" y2="475.7" stroke="#f0f" stroke-width="7.5"/>
<circle cx="902.5" cy="559.9" r="15.4" fill="none" stroke="#000" stroke-width="6.6"/>
<rect x="888.6" y="630.2" width="27.8" height="27.8" fill="none" stroke="#00f" stroke-width="7"/>
<path d="M902.5,711.4 L921.0,736.9 L884.0,736.9 Z" fill="none" stroke="#f00" stroke-width="6.2" stroke-linejoin="miter"/>
<path d="M902.5,792.6 L918.0,810.6 L902.5,828.6 L887.0,810.6 Z" fill="none" stroke="#0f0" stroke-width="6.2" stroke-linejoin="miter"/>
<path d="M919.5,894.8 L891.5,913.3 L891.5,876.3 Z" fill="none" stroke="#f0f" stroke-width="6.2" stroke-linejoin="miter"/>
<text class="lt" transform="translate(995.77,163.8) scale(0.8369,1)" font-size="54px">ω</text>
<text class="lt" transform="translate(1045.58,164.8) scale(0.8954,1)" font-size="60px">=</text>
<text class="lt" transform="translate(1089.78,163.8) scale(0.9483,1)" font-size="60px">0</text>
<text class="lt" transform="translate(1133.30,163.8) scale(0.9031,1)" font-size="60px">rad/h,</text>
<text class="lt" transform="translate(1280.03,163.8) scale(0.9493,1)" font-size="60px">MCP</text>
<text class="lt" transform="translate(995.77,246.2) scale(0.8369,1)" font-size="54px">ω</text>
<text class="lt" transform="translate(1045.58,247.2) scale(0.8954,1)" font-size="60px">=</text>
<text class="lt" transform="translate(1090.03,246.2) scale(0.8409,1)" font-size="60px">0.1</text>
<text class="lt" transform="translate(1177.07,246.2) scale(0.9109,1)" font-size="60px">rad/h</text>
<text class="lt" transform="translate(995.77,330.1) scale(0.8369,1)" font-size="54px">ω</text>
<text class="lt" transform="translate(1045.58,331.1) scale(0.8954,1)" font-size="60px">=</text>
<text class="lt" transform="translate(1089.00,330.1) scale(0.9951,1)" font-size="60px">2</text>
<text class="lt" transform="translate(1133.28,330.1) scale(0.9078,1)" font-size="60px">rad/h</text>
<text class="lt" transform="translate(995.77,412.4) scale(0.8369,1)" font-size="54px">ω</text>
<text class="lt" transform="translate(1045.58,413.4) scale(0.8954,1)" font-size="60px">=</text>
<text class="lt" transform="translate(1093.67,412.4) scale(0.8609,1)" font-size="60px">10</text>
<text class="lt" transform="translate(1163.28,412.4) scale(0.9078,1)" font-size="60px">rad/h</text>
<text class="lt" transform="translate(995.77,498.5) scale(0.8369,1)" font-size="54px">ω</text>
<text class="lt" transform="translate(1045.58,499.5) scale(0.8954,1)" font-size="60px">=</text>
<text class="lt" transform="translate(1093.51,498.5) scale(0.8952,1)" font-size="60px">1000</text>
<text class="lt" transform="translate(1224.98,498.5) scale(0.9078,1)" font-size="60px">rad/h</text>
<text class="lt" transform="translate(995.77,583.1) scale(0.8369,1)" font-size="54px">ω</text>
<text class="lt" transform="translate(1045.58,584.1) scale(0.8954,1)" font-size="60px">=</text>
<text class="lt" transform="translate(1089.78,583.1) scale(0.9483,1)" font-size="60px">0</text>
<text class="lt" transform="translate(1133.30,583.1) scale(0.9031,1)" font-size="60px">rad/h,</text>
<text class="lt" transform="translate(1281.88,583.1) scale(0.9591,1)" font-size="60px">FDM</text>
<text class="lt" transform="translate(995.77,666.5) scale(0.8369,1)" font-size="54px">ω</text>
<text class="lt" transform="translate(1045.58,667.5) scale(0.8954,1)" font-size="60px">=</text>
<text class="lt" transform="translate(1090.03,666.5) scale(0.8409,1)" font-size="60px">0.1</text>
<text class="lt" transform="translate(1177.07,666.5) scale(0.9109,1)" font-size="60px">rad/h</text>
<text class="lt" transform="translate(995.77,750.0) scale(0.8369,1)" font-size="54px">ω</text>
<text class="lt" transform="translate(1045.58,751.0) scale(0.8954,1)" font-size="60px">=</text>
<text class="lt" transform="translate(1089.00,750.0) scale(0.9951,1)" font-size="60px">2</text>
<text class="lt" transform="translate(1133.28,750.0) scale(0.9078,1)" font-size="60px">rad/h</text>
<text class="lt" transform="translate(995.77,835.0) scale(0.8369,1)" font-size="54px">ω</text>
<text class="lt" transform="translate(1045.58,836.0) scale(0.8954,1)" font-size="60px">=</text>
<text class="lt" transform="translate(1093.67,835.0) scale(0.8609,1)" font-size="60px">10</text>
<text class="lt" transform="translate(1163.28,835.0) scale(0.9078,1)" font-size="60px">rad/h</text>
<text class="lt" transform="translate(995.77,918.4) scale(0.8369,1)" font-size="54px">ω</text>
<text class="lt" transform="translate(1045.58,919.4) scale(0.8954,1)" font-size="60px">=</text>
<text class="lt" transform="translate(1093.51,918.4) scale(0.8952,1)" font-size="60px">1000</text>
<text class="lt" transform="translate(1224.98,918.4) scale(0.9078,1)" font-size="60px">rad/h</text>
</svg></body></html>
